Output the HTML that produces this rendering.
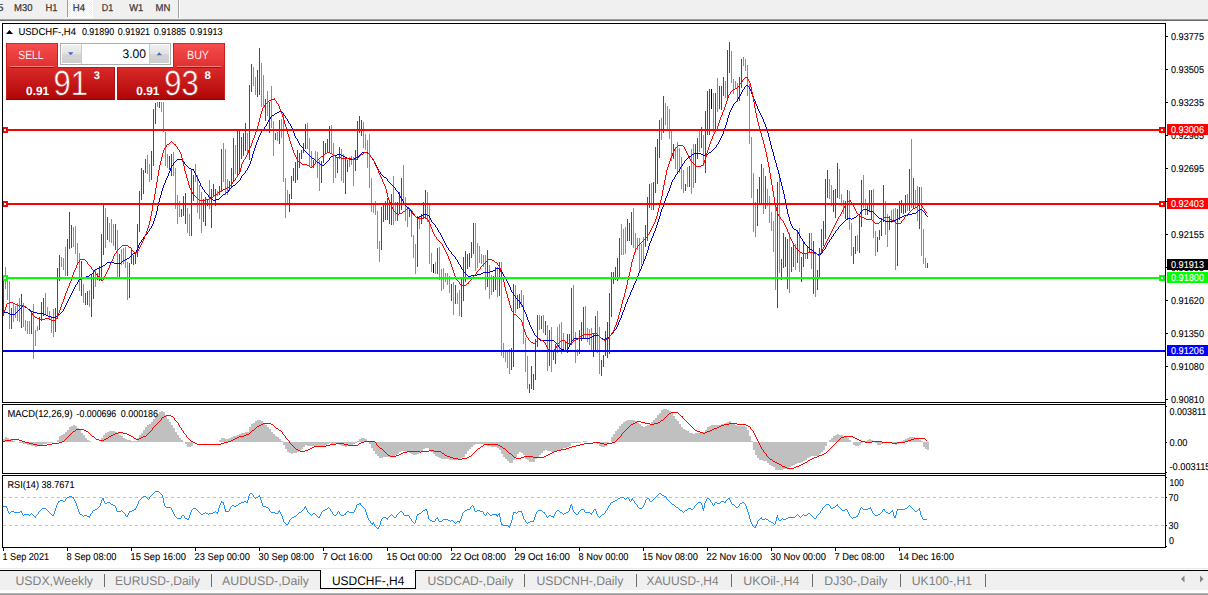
<!DOCTYPE html>
<html><head><meta charset="utf-8"><title>USDCHF-,H4</title>
<style>html,body{margin:0;padding:0;background:#fff;overflow:hidden}body{width:1208px;height:595px;font-family:"Liberation Sans",sans-serif}svg text{font-family:"Liberation Sans",sans-serif;white-space:pre;text-rendering:geometricPrecision}</style></head>
<body>
<svg width="1208" height="595" viewBox="0 0 1208 595" font-family='"Liberation Sans", sans-serif' style="display:block">
<defs><linearGradient id="gs1" x1="0" y1="0" x2="0" y2="1"><stop offset="0" stop-color="#f64e4e"/><stop offset="1" stop-color="#e03030"/></linearGradient><linearGradient id="gs2" x1="0" y1="0" x2="0" y2="1"><stop offset="0" stop-color="#da2a2a"/><stop offset="1" stop-color="#b00505"/></linearGradient><linearGradient id="gb" x1="0" y1="0" x2="0" y2="1"><stop offset="0" stop-color="#f0f0f0"/><stop offset="0.5" stop-color="#e2e2e2"/><stop offset="0.5" stop-color="#d6d6d6"/><stop offset="1" stop-color="#cdcdcd"/></linearGradient><linearGradient id="gs2u" gradientUnits="userSpaceOnUse" x1="0" y1="67" x2="0" y2="100"><stop offset="0" stop-color="#da2a2a"/><stop offset="1" stop-color="#b00505"/></linearGradient><pattern id="dither" width="2" height="2" patternUnits="userSpaceOnUse"><rect width="2" height="2" fill="#f0f0f0"/><rect width="1" height="1" fill="#fff"/><rect x="1" y="1" width="1" height="1" fill="#fff"/></pattern></defs>
<rect x="0" y="0" width="1208" height="595" fill="#fff" />
<g shape-rendering="crispEdges">
<rect x="0" y="0" width="1208" height="19" fill="#f0f0f0" />
<rect x="0" y="19" width="1208" height="1" fill="#a0a0a0" />
<rect x="0" y="20" width="1208" height="1" fill="#696969" />
<rect x="68" y="0" width="24" height="17" fill="url(#dither)" />
<rect x="67" y="0" width="1" height="17" fill="#a0a0a0" />
<rect x="92" y="0" width="1" height="18" fill="#ffffff" />
<rect x="67" y="17" width="26" height="1" fill="#ffffff" />
<rect x="178" y="0" width="1" height="18" fill="#a0a0a0" />
<rect x="179" y="0" width="1" height="18" fill="#ffffff" />
</g>
<g style="opacity:0.999">
<text x="-2.5" y="11" font-size="10" fill="#3a3a3a" stroke="#3a3a3a" stroke-width="0.25" textLength="6" lengthAdjust="spacingAndGlyphs" >5</text>
<text x="14" y="11" font-size="10" fill="#3a3a3a" stroke="#3a3a3a" stroke-width="0.25" textLength="18.5" lengthAdjust="spacingAndGlyphs" >M30</text>
<text x="45.5" y="11" font-size="10" fill="#3a3a3a" stroke="#3a3a3a" stroke-width="0.25" textLength="12" lengthAdjust="spacingAndGlyphs" >H1</text>
<text x="72.8" y="11" font-size="10" fill="#3a3a3a" stroke="#3a3a3a" stroke-width="0.25" textLength="12.2" lengthAdjust="spacingAndGlyphs" >H4</text>
<text x="101.8" y="11" font-size="10" fill="#3a3a3a" stroke="#3a3a3a" stroke-width="0.25" textLength="11.5" lengthAdjust="spacingAndGlyphs" >D1</text>
<text x="129.3" y="11" font-size="10" fill="#3a3a3a" stroke="#3a3a3a" stroke-width="0.25" textLength="14" lengthAdjust="spacingAndGlyphs" >W1</text>
<text x="155.6" y="11" font-size="10" fill="#3a3a3a" stroke="#3a3a3a" stroke-width="0.25" textLength="14.8" lengthAdjust="spacingAndGlyphs" >MN</text>
</g>
<g shape-rendering="crispEdges">
<rect x="3" y="278" width="1" height="38" fill="#ff0000" />
<rect x="5" y="267" width="1" height="22" fill="#32cd32" />
<rect x="7" y="275" width="1" height="25" fill="#32cd32" />
<rect x="9" y="281" width="1" height="48" fill="#32cd32" />
<rect x="11" y="308" width="1" height="21" fill="#ff0000" />
<rect x="13" y="304" width="1" height="18" fill="#32cd32" />
<rect x="15" y="306" width="1" height="12" fill="#32cd32" />
<rect x="17" y="303" width="1" height="18" fill="#32cd32" />
<rect x="19" y="298" width="1" height="24" fill="#32cd32" />
<rect x="21" y="294" width="1" height="34" fill="#ff0000" />
<rect x="23" y="303" width="1" height="24" fill="#32cd32" />
<rect x="25" y="320" width="1" height="11" fill="#32cd32" />
<rect x="27" y="321" width="1" height="13" fill="#32cd32" />
<rect x="29" y="321" width="1" height="13" fill="#32cd32" />
<rect x="31" y="312" width="1" height="22" fill="#ff0000" />
<rect x="33" y="304" width="1" height="55" fill="#32cd32" />
<rect x="35" y="330" width="1" height="16" fill="#32cd32" />
<rect x="37" y="326" width="1" height="5" fill="#32cd32" />
<rect x="39" y="317" width="1" height="13" fill="#ff0000" />
<rect x="41" y="302" width="1" height="19" fill="#ff0000" />
<rect x="43" y="298" width="1" height="18" fill="#ff0000" />
<rect x="45" y="293" width="1" height="21" fill="#32cd32" />
<rect x="47" y="307" width="1" height="8" fill="#32cd32" />
<rect x="49" y="311" width="1" height="9" fill="#32cd32" />
<rect x="51" y="316" width="1" height="17" fill="#32cd32" />
<rect x="53" y="309" width="1" height="28" fill="#32cd32" />
<rect x="55" y="308" width="1" height="24" fill="#ff0000" />
<rect x="57" y="268" width="1" height="51" fill="#ff0000" />
<rect x="59" y="255" width="1" height="26" fill="#ff0000" />
<rect x="61" y="257" width="1" height="10" fill="#32cd32" />
<rect x="63" y="258" width="1" height="12" fill="#32cd32" />
<rect x="65" y="247" width="1" height="29" fill="#32cd32" />
<rect x="67" y="239" width="1" height="37" fill="#ff0000" />
<rect x="69" y="212" width="1" height="37" fill="#ff0000" />
<rect x="71" y="225" width="1" height="23" fill="#ff0000" />
<rect x="73" y="227" width="1" height="20" fill="#32cd32" />
<rect x="75" y="226" width="1" height="28" fill="#32cd32" />
<rect x="77" y="243" width="1" height="20" fill="#32cd32" />
<rect x="79" y="253" width="1" height="38" fill="#32cd32" />
<rect x="81" y="261" width="1" height="35" fill="#ff0000" />
<rect x="83" y="284" width="1" height="19" fill="#32cd32" />
<rect x="85" y="293" width="1" height="12" fill="#ff0000" />
<rect x="87" y="291" width="1" height="14" fill="#ff0000" />
<rect x="89" y="290" width="1" height="17" fill="#32cd32" />
<rect x="91" y="274" width="1" height="43" fill="#ff0000" />
<rect x="93" y="270" width="1" height="29" fill="#ff0000" />
<rect x="95" y="270" width="1" height="17" fill="#32cd32" />
<rect x="97" y="273" width="1" height="7" fill="#ff0000" />
<rect x="99" y="266" width="1" height="15" fill="#ff0000" />
<rect x="101" y="234" width="1" height="47" fill="#ff0000" />
<rect x="103" y="204" width="1" height="51" fill="#ff0000" />
<rect x="105" y="208" width="1" height="40" fill="#32cd32" />
<rect x="107" y="217" width="1" height="23" fill="#ff0000" />
<rect x="109" y="223" width="1" height="19" fill="#32cd32" />
<rect x="111" y="219" width="1" height="24" fill="#32cd32" />
<rect x="113" y="224" width="1" height="22" fill="#32cd32" />
<rect x="115" y="224" width="1" height="26" fill="#ff0000" />
<rect x="117" y="230" width="1" height="48" fill="#32cd32" />
<rect x="119" y="254" width="1" height="24" fill="#ff0000" />
<rect x="121" y="249" width="1" height="16" fill="#32cd32" />
<rect x="123" y="248" width="1" height="16" fill="#32cd32" />
<rect x="125" y="247" width="1" height="21" fill="#32cd32" />
<rect x="127" y="262" width="1" height="38" fill="#32cd32" />
<rect x="129" y="263" width="1" height="35" fill="#ff0000" />
<rect x="131" y="249" width="1" height="15" fill="#ff0000" />
<rect x="133" y="255" width="1" height="10" fill="#ff0000" />
<rect x="135" y="253" width="1" height="11" fill="#ff0000" />
<rect x="137" y="224" width="1" height="33" fill="#ff0000" />
<rect x="139" y="191" width="1" height="41" fill="#ff0000" />
<rect x="141" y="168" width="1" height="32" fill="#ff0000" />
<rect x="143" y="170" width="1" height="24" fill="#ff0000" />
<rect x="145" y="159" width="1" height="14" fill="#ff0000" />
<rect x="147" y="155" width="1" height="19" fill="#32cd32" />
<rect x="149" y="164" width="1" height="18" fill="#32cd32" />
<rect x="151" y="151" width="1" height="29" fill="#ff0000" />
<rect x="153" y="109" width="1" height="57" fill="#ff0000" />
<rect x="155" y="103" width="1" height="21" fill="#ff0000" />
<rect x="157" y="102" width="1" height="5" fill="#32cd32" />
<rect x="159" y="102" width="1" height="6" fill="#ff0000" />
<rect x="161" y="102" width="1" height="10" fill="#32cd32" />
<rect x="163" y="102" width="1" height="30" fill="#32cd32" />
<rect x="165" y="132" width="1" height="34" fill="#32cd32" />
<rect x="167" y="154" width="1" height="14" fill="#32cd32" />
<rect x="169" y="156" width="1" height="14" fill="#ff0000" />
<rect x="171" y="154" width="1" height="22" fill="#ff0000" />
<rect x="173" y="152" width="1" height="24" fill="#32cd32" />
<rect x="175" y="168" width="1" height="41" fill="#32cd32" />
<rect x="177" y="195" width="1" height="29" fill="#32cd32" />
<rect x="179" y="201" width="1" height="16" fill="#32cd32" />
<rect x="181" y="209" width="1" height="8" fill="#ff0000" />
<rect x="183" y="196" width="1" height="20" fill="#ff0000" />
<rect x="185" y="193" width="1" height="31" fill="#ff0000" />
<rect x="187" y="208" width="1" height="25" fill="#32cd32" />
<rect x="189" y="214" width="1" height="22" fill="#32cd32" />
<rect x="191" y="170" width="1" height="66" fill="#ff0000" />
<rect x="193" y="175" width="1" height="26" fill="#ff0000" />
<rect x="195" y="164" width="1" height="18" fill="#32cd32" />
<rect x="197" y="175" width="1" height="38" fill="#32cd32" />
<rect x="199" y="185" width="1" height="34" fill="#32cd32" />
<rect x="201" y="192" width="1" height="41" fill="#32cd32" />
<rect x="203" y="199" width="1" height="23" fill="#ff0000" />
<rect x="205" y="197" width="1" height="29" fill="#ff0000" />
<rect x="207" y="199" width="1" height="7" fill="#ff0000" />
<rect x="209" y="180" width="1" height="29" fill="#32cd32" />
<rect x="211" y="189" width="1" height="39" fill="#ff0000" />
<rect x="213" y="184" width="1" height="13" fill="#ff0000" />
<rect x="215" y="189" width="1" height="17" fill="#ff0000" />
<rect x="217" y="191" width="1" height="5" fill="#32cd32" />
<rect x="219" y="186" width="1" height="9" fill="#ff0000" />
<rect x="221" y="149" width="1" height="43" fill="#ff0000" />
<rect x="223" y="143" width="1" height="39" fill="#32cd32" />
<rect x="225" y="149" width="1" height="46" fill="#32cd32" />
<rect x="227" y="179" width="1" height="16" fill="#32cd32" />
<rect x="229" y="181" width="1" height="10" fill="#ff0000" />
<rect x="231" y="168" width="1" height="19" fill="#ff0000" />
<rect x="233" y="138" width="1" height="43" fill="#ff0000" />
<rect x="235" y="145" width="1" height="29" fill="#32cd32" />
<rect x="237" y="130" width="1" height="45" fill="#ff0000" />
<rect x="239" y="130" width="1" height="42" fill="#ff0000" />
<rect x="241" y="137" width="1" height="22" fill="#ff0000" />
<rect x="243" y="133" width="1" height="23" fill="#ff0000" />
<rect x="245" y="123" width="1" height="28" fill="#ff0000" />
<rect x="247" y="133" width="1" height="20" fill="#32cd32" />
<rect x="249" y="85" width="1" height="75" fill="#ff0000" />
<rect x="251" y="64" width="1" height="28" fill="#ff0000" />
<rect x="253" y="67" width="1" height="19" fill="#32cd32" />
<rect x="255" y="77" width="1" height="18" fill="#32cd32" />
<rect x="257" y="70" width="1" height="27" fill="#ff0000" />
<rect x="259" y="48" width="1" height="47" fill="#ff0000" />
<rect x="261" y="63" width="1" height="44" fill="#32cd32" />
<rect x="263" y="75" width="1" height="33" fill="#32cd32" />
<rect x="265" y="99" width="1" height="22" fill="#ff0000" />
<rect x="267" y="91" width="1" height="25" fill="#32cd32" />
<rect x="269" y="102" width="1" height="31" fill="#ff0000" />
<rect x="271" y="86" width="1" height="42" fill="#32cd32" />
<rect x="273" y="121" width="1" height="35" fill="#32cd32" />
<rect x="275" y="133" width="1" height="7" fill="#ff0000" />
<rect x="277" y="132" width="1" height="9" fill="#32cd32" />
<rect x="279" y="120" width="1" height="24" fill="#ff0000" />
<rect x="281" y="119" width="1" height="19" fill="#32cd32" />
<rect x="283" y="113" width="1" height="69" fill="#32cd32" />
<rect x="285" y="178" width="1" height="40" fill="#32cd32" />
<rect x="287" y="190" width="1" height="14" fill="#32cd32" />
<rect x="289" y="194" width="1" height="18" fill="#ff0000" />
<rect x="291" y="176" width="1" height="23" fill="#ff0000" />
<rect x="293" y="168" width="1" height="13" fill="#ff0000" />
<rect x="295" y="162" width="1" height="21" fill="#ff0000" />
<rect x="297" y="150" width="1" height="30" fill="#ff0000" />
<rect x="299" y="153" width="1" height="15" fill="#ff0000" />
<rect x="301" y="150" width="1" height="9" fill="#ff0000" />
<rect x="303" y="143" width="1" height="10" fill="#ff0000" />
<rect x="305" y="124" width="1" height="25" fill="#ff0000" />
<rect x="307" y="123" width="1" height="26" fill="#32cd32" />
<rect x="309" y="138" width="1" height="28" fill="#32cd32" />
<rect x="311" y="151" width="1" height="16" fill="#32cd32" />
<rect x="313" y="160" width="1" height="8" fill="#ff0000" />
<rect x="315" y="151" width="1" height="13" fill="#32cd32" />
<rect x="317" y="152" width="1" height="26" fill="#32cd32" />
<rect x="319" y="160" width="1" height="31" fill="#32cd32" />
<rect x="321" y="161" width="1" height="22" fill="#ff0000" />
<rect x="323" y="141" width="1" height="22" fill="#ff0000" />
<rect x="325" y="143" width="1" height="10" fill="#ff0000" />
<rect x="327" y="139" width="1" height="13" fill="#ff0000" />
<rect x="329" y="126" width="1" height="26" fill="#ff0000" />
<rect x="331" y="125" width="1" height="29" fill="#32cd32" />
<rect x="333" y="143" width="1" height="40" fill="#32cd32" />
<rect x="335" y="156" width="1" height="22" fill="#32cd32" />
<rect x="337" y="157" width="1" height="16" fill="#ff0000" />
<rect x="339" y="147" width="1" height="12" fill="#ff0000" />
<rect x="341" y="149" width="1" height="32" fill="#32cd32" />
<rect x="343" y="154" width="1" height="29" fill="#32cd32" />
<rect x="345" y="159" width="1" height="35" fill="#ff0000" />
<rect x="347" y="160" width="1" height="12" fill="#ff0000" />
<rect x="349" y="157" width="1" height="10" fill="#32cd32" />
<rect x="351" y="156" width="1" height="9" fill="#32cd32" />
<rect x="353" y="157" width="1" height="29" fill="#32cd32" />
<rect x="355" y="150" width="1" height="21" fill="#ff0000" />
<rect x="357" y="121" width="1" height="39" fill="#ff0000" />
<rect x="359" y="116" width="1" height="17" fill="#ff0000" />
<rect x="361" y="120" width="1" height="16" fill="#ff0000" />
<rect x="363" y="122" width="1" height="26" fill="#32cd32" />
<rect x="365" y="134" width="1" height="16" fill="#32cd32" />
<rect x="367" y="140" width="1" height="28" fill="#32cd32" />
<rect x="369" y="134" width="1" height="54" fill="#32cd32" />
<rect x="371" y="178" width="1" height="34" fill="#32cd32" />
<rect x="373" y="204" width="1" height="9" fill="#32cd32" />
<rect x="375" y="201" width="1" height="14" fill="#32cd32" />
<rect x="377" y="211" width="1" height="38" fill="#32cd32" />
<rect x="379" y="241" width="1" height="21" fill="#32cd32" />
<rect x="381" y="207" width="1" height="43" fill="#ff0000" />
<rect x="383" y="204" width="1" height="18" fill="#ff0000" />
<rect x="385" y="201" width="1" height="19" fill="#ff0000" />
<rect x="387" y="198" width="1" height="22" fill="#ff0000" />
<rect x="389" y="201" width="1" height="23" fill="#ff0000" />
<rect x="391" y="194" width="1" height="31" fill="#ff0000" />
<rect x="393" y="176" width="1" height="49" fill="#32cd32" />
<rect x="395" y="202" width="1" height="19" fill="#32cd32" />
<rect x="397" y="202" width="1" height="19" fill="#ff0000" />
<rect x="399" y="192" width="1" height="21" fill="#ff0000" />
<rect x="401" y="178" width="1" height="32" fill="#ff0000" />
<rect x="403" y="165" width="1" height="40" fill="#32cd32" />
<rect x="405" y="197" width="1" height="24" fill="#32cd32" />
<rect x="407" y="207" width="1" height="20" fill="#32cd32" />
<rect x="409" y="208" width="1" height="9" fill="#ff0000" />
<rect x="411" y="211" width="1" height="26" fill="#32cd32" />
<rect x="413" y="235" width="1" height="23" fill="#32cd32" />
<rect x="415" y="244" width="1" height="30" fill="#32cd32" />
<rect x="417" y="216" width="1" height="51" fill="#ff0000" />
<rect x="419" y="216" width="1" height="13" fill="#32cd32" />
<rect x="421" y="214" width="1" height="10" fill="#ff0000" />
<rect x="423" y="202" width="1" height="17" fill="#ff0000" />
<rect x="425" y="190" width="1" height="29" fill="#ff0000" />
<rect x="427" y="192" width="1" height="30" fill="#32cd32" />
<rect x="429" y="203" width="1" height="61" fill="#32cd32" />
<rect x="431" y="253" width="1" height="19" fill="#32cd32" />
<rect x="433" y="264" width="1" height="9" fill="#000000" />
<rect x="435" y="262" width="1" height="12" fill="#32cd32" />
<rect x="437" y="248" width="1" height="26" fill="#ff0000" />
<rect x="439" y="247" width="1" height="33" fill="#32cd32" />
<rect x="441" y="269" width="1" height="22" fill="#32cd32" />
<rect x="443" y="268" width="1" height="21" fill="#32cd32" />
<rect x="445" y="273" width="1" height="9" fill="#32cd32" />
<rect x="447" y="273" width="1" height="12" fill="#32cd32" />
<rect x="449" y="276" width="1" height="17" fill="#32cd32" />
<rect x="451" y="284" width="1" height="17" fill="#ff0000" />
<rect x="453" y="282" width="1" height="33" fill="#32cd32" />
<rect x="455" y="285" width="1" height="19" fill="#ff0000" />
<rect x="457" y="293" width="1" height="11" fill="#32cd32" />
<rect x="459" y="290" width="1" height="26" fill="#32cd32" />
<rect x="461" y="278" width="1" height="39" fill="#ff0000" />
<rect x="463" y="257" width="1" height="44" fill="#ff0000" />
<rect x="465" y="251" width="1" height="31" fill="#ff0000" />
<rect x="467" y="254" width="1" height="15" fill="#ff0000" />
<rect x="469" y="253" width="1" height="14" fill="#ff0000" />
<rect x="471" y="242" width="1" height="16" fill="#ff0000" />
<rect x="473" y="223" width="1" height="31" fill="#ff0000" />
<rect x="475" y="223" width="1" height="48" fill="#32cd32" />
<rect x="477" y="243" width="1" height="25" fill="#32cd32" />
<rect x="479" y="246" width="1" height="17" fill="#32cd32" />
<rect x="481" y="254" width="1" height="10" fill="#32cd32" />
<rect x="483" y="255" width="1" height="12" fill="#32cd32" />
<rect x="485" y="255" width="1" height="35" fill="#32cd32" />
<rect x="487" y="250" width="1" height="37" fill="#ff0000" />
<rect x="489" y="265" width="1" height="34" fill="#32cd32" />
<rect x="491" y="275" width="1" height="20" fill="#32cd32" />
<rect x="493" y="276" width="1" height="16" fill="#ff0000" />
<rect x="495" y="267" width="1" height="23" fill="#ff0000" />
<rect x="497" y="267" width="1" height="30" fill="#32cd32" />
<rect x="499" y="262" width="1" height="34" fill="#ff0000" />
<rect x="501" y="262" width="1" height="94" fill="#32cd32" />
<rect x="503" y="343" width="1" height="15" fill="#32cd32" />
<rect x="505" y="350" width="1" height="12" fill="#32cd32" />
<rect x="507" y="351" width="1" height="17" fill="#32cd32" />
<rect x="509" y="349" width="1" height="25" fill="#32cd32" />
<rect x="511" y="348" width="1" height="22" fill="#ff0000" />
<rect x="513" y="284" width="1" height="83" fill="#ff0000" />
<rect x="515" y="285" width="1" height="28" fill="#32cd32" />
<rect x="517" y="295" width="1" height="14" fill="#ff0000" />
<rect x="519" y="294" width="1" height="14" fill="#ff0000" />
<rect x="521" y="290" width="1" height="17" fill="#32cd32" />
<rect x="523" y="295" width="1" height="49" fill="#32cd32" />
<rect x="525" y="338" width="1" height="34" fill="#32cd32" />
<rect x="527" y="356" width="1" height="33" fill="#32cd32" />
<rect x="529" y="384" width="1" height="9" fill="#ff0000" />
<rect x="531" y="366" width="1" height="23" fill="#ff0000" />
<rect x="533" y="374" width="1" height="16" fill="#ff0000" />
<rect x="535" y="339" width="1" height="41" fill="#ff0000" />
<rect x="537" y="315" width="1" height="32" fill="#ff0000" />
<rect x="539" y="315" width="1" height="15" fill="#32cd32" />
<rect x="541" y="316" width="1" height="13" fill="#ff0000" />
<rect x="543" y="315" width="1" height="18" fill="#32cd32" />
<rect x="545" y="321" width="1" height="14" fill="#ff0000" />
<rect x="547" y="325" width="1" height="46" fill="#32cd32" />
<rect x="549" y="330" width="1" height="36" fill="#ff0000" />
<rect x="551" y="327" width="1" height="45" fill="#32cd32" />
<rect x="553" y="351" width="1" height="9" fill="#ff0000" />
<rect x="555" y="344" width="1" height="20" fill="#ff0000" />
<rect x="557" y="327" width="1" height="26" fill="#32cd32" />
<rect x="559" y="324" width="1" height="26" fill="#32cd32" />
<rect x="561" y="322" width="1" height="32" fill="#32cd32" />
<rect x="563" y="333" width="1" height="19" fill="#32cd32" />
<rect x="565" y="342" width="1" height="10" fill="#ff0000" />
<rect x="567" y="334" width="1" height="19" fill="#ff0000" />
<rect x="569" y="334" width="1" height="11" fill="#ff0000" />
<rect x="571" y="288" width="1" height="57" fill="#ff0000" />
<rect x="573" y="285" width="1" height="56" fill="#32cd32" />
<rect x="575" y="332" width="1" height="31" fill="#32cd32" />
<rect x="577" y="349" width="1" height="7" fill="#32cd32" />
<rect x="579" y="330" width="1" height="24" fill="#ff0000" />
<rect x="581" y="322" width="1" height="19" fill="#ff0000" />
<rect x="583" y="307" width="1" height="32" fill="#ff0000" />
<rect x="585" y="306" width="1" height="32" fill="#32cd32" />
<rect x="587" y="328" width="1" height="14" fill="#32cd32" />
<rect x="589" y="329" width="1" height="16" fill="#32cd32" />
<rect x="591" y="328" width="1" height="23" fill="#32cd32" />
<rect x="593" y="333" width="1" height="24" fill="#ff0000" />
<rect x="595" y="316" width="1" height="36" fill="#ff0000" />
<rect x="597" y="311" width="1" height="42" fill="#32cd32" />
<rect x="599" y="327" width="1" height="47" fill="#32cd32" />
<rect x="601" y="360" width="1" height="16" fill="#ff0000" />
<rect x="603" y="355" width="1" height="12" fill="#ff0000" />
<rect x="605" y="331" width="1" height="25" fill="#ff0000" />
<rect x="607" y="322" width="1" height="36" fill="#ff0000" />
<rect x="609" y="293" width="1" height="61" fill="#ff0000" />
<rect x="611" y="272" width="1" height="45" fill="#ff0000" />
<rect x="613" y="272" width="1" height="12" fill="#ff0000" />
<rect x="615" y="267" width="1" height="13" fill="#ff0000" />
<rect x="617" y="258" width="1" height="23" fill="#ff0000" />
<rect x="619" y="238" width="1" height="39" fill="#ff0000" />
<rect x="621" y="224" width="1" height="31" fill="#32cd32" />
<rect x="623" y="229" width="1" height="26" fill="#32cd32" />
<rect x="625" y="227" width="1" height="27" fill="#32cd32" />
<rect x="627" y="219" width="1" height="22" fill="#ff0000" />
<rect x="629" y="223" width="1" height="18" fill="#ff0000" />
<rect x="631" y="212" width="1" height="33" fill="#ff0000" />
<rect x="633" y="208" width="1" height="40" fill="#32cd32" />
<rect x="635" y="233" width="1" height="20" fill="#32cd32" />
<rect x="637" y="238" width="1" height="12" fill="#32cd32" />
<rect x="639" y="238" width="1" height="33" fill="#32cd32" />
<rect x="641" y="244" width="1" height="21" fill="#32cd32" />
<rect x="643" y="237" width="1" height="26" fill="#32cd32" />
<rect x="645" y="225" width="1" height="22" fill="#ff0000" />
<rect x="647" y="197" width="1" height="44" fill="#ff0000" />
<rect x="649" y="184" width="1" height="24" fill="#ff0000" />
<rect x="651" y="183" width="1" height="27" fill="#32cd32" />
<rect x="653" y="182" width="1" height="28" fill="#ff0000" />
<rect x="655" y="147" width="1" height="46" fill="#ff0000" />
<rect x="657" y="139" width="1" height="45" fill="#ff0000" />
<rect x="659" y="120" width="1" height="38" fill="#ff0000" />
<rect x="661" y="118" width="1" height="22" fill="#32cd32" />
<rect x="663" y="96" width="1" height="37" fill="#ff0000" />
<rect x="665" y="103" width="1" height="22" fill="#32cd32" />
<rect x="667" y="106" width="1" height="23" fill="#32cd32" />
<rect x="669" y="109" width="1" height="30" fill="#32cd32" />
<rect x="671" y="130" width="1" height="31" fill="#32cd32" />
<rect x="673" y="144" width="1" height="15" fill="#ff0000" />
<rect x="675" y="147" width="1" height="22" fill="#32cd32" />
<rect x="677" y="142" width="1" height="30" fill="#32cd32" />
<rect x="679" y="148" width="1" height="25" fill="#32cd32" />
<rect x="681" y="157" width="1" height="32" fill="#32cd32" />
<rect x="683" y="170" width="1" height="23" fill="#32cd32" />
<rect x="685" y="184" width="1" height="7" fill="#ff0000" />
<rect x="687" y="167" width="1" height="20" fill="#32cd32" />
<rect x="689" y="166" width="1" height="21" fill="#ff0000" />
<rect x="691" y="149" width="1" height="45" fill="#32cd32" />
<rect x="693" y="144" width="1" height="44" fill="#32cd32" />
<rect x="695" y="144" width="1" height="39" fill="#ff0000" />
<rect x="697" y="138" width="1" height="21" fill="#ff0000" />
<rect x="699" y="130" width="1" height="22" fill="#32cd32" />
<rect x="701" y="127" width="1" height="21" fill="#ff0000" />
<rect x="703" y="135" width="1" height="31" fill="#32cd32" />
<rect x="705" y="111" width="1" height="62" fill="#ff0000" />
<rect x="707" y="91" width="1" height="44" fill="#ff0000" />
<rect x="709" y="89" width="1" height="46" fill="#ff0000" />
<rect x="711" y="89" width="1" height="20" fill="#000000" />
<rect x="713" y="93" width="1" height="39" fill="#32cd32" />
<rect x="715" y="93" width="1" height="37" fill="#ff0000" />
<rect x="717" y="78" width="1" height="34" fill="#32cd32" />
<rect x="719" y="86" width="1" height="23" fill="#ff0000" />
<rect x="721" y="86" width="1" height="24" fill="#ff0000" />
<rect x="723" y="77" width="1" height="19" fill="#ff0000" />
<rect x="725" y="81" width="1" height="17" fill="#32cd32" />
<rect x="727" y="50" width="1" height="49" fill="#ff0000" />
<rect x="729" y="42" width="1" height="31" fill="#ff0000" />
<rect x="731" y="51" width="1" height="32" fill="#32cd32" />
<rect x="733" y="79" width="1" height="15" fill="#32cd32" />
<rect x="735" y="81" width="1" height="7" fill="#32cd32" />
<rect x="737" y="83" width="1" height="19" fill="#32cd32" />
<rect x="739" y="77" width="1" height="24" fill="#ff0000" />
<rect x="741" y="59" width="1" height="29" fill="#ff0000" />
<rect x="743" y="57" width="1" height="9" fill="#32cd32" />
<rect x="745" y="59" width="1" height="12" fill="#32cd32" />
<rect x="747" y="65" width="1" height="31" fill="#32cd32" />
<rect x="749" y="84" width="1" height="60" fill="#32cd32" />
<rect x="751" y="137" width="1" height="61" fill="#32cd32" />
<rect x="753" y="173" width="1" height="59" fill="#32cd32" />
<rect x="755" y="202" width="1" height="35" fill="#32cd32" />
<rect x="757" y="189" width="1" height="37" fill="#ff0000" />
<rect x="759" y="177" width="1" height="28" fill="#ff0000" />
<rect x="761" y="164" width="1" height="41" fill="#ff0000" />
<rect x="763" y="168" width="1" height="46" fill="#32cd32" />
<rect x="765" y="176" width="1" height="33" fill="#ff0000" />
<rect x="767" y="189" width="1" height="17" fill="#32cd32" />
<rect x="769" y="196" width="1" height="27" fill="#32cd32" />
<rect x="771" y="212" width="1" height="19" fill="#32cd32" />
<rect x="773" y="221" width="1" height="31" fill="#32cd32" />
<rect x="775" y="207" width="1" height="83" fill="#32cd32" />
<rect x="777" y="182" width="1" height="126" fill="#ff0000" />
<rect x="779" y="173" width="1" height="100" fill="#32cd32" />
<rect x="781" y="259" width="1" height="21" fill="#ff0000" />
<rect x="783" y="233" width="1" height="35" fill="#ff0000" />
<rect x="785" y="237" width="1" height="30" fill="#ff0000" />
<rect x="787" y="239" width="1" height="50" fill="#ff0000" />
<rect x="789" y="233" width="1" height="60" fill="#32cd32" />
<rect x="791" y="247" width="1" height="25" fill="#ff0000" />
<rect x="793" y="243" width="1" height="24" fill="#ff0000" />
<rect x="795" y="244" width="1" height="26" fill="#32cd32" />
<rect x="797" y="230" width="1" height="33" fill="#ff0000" />
<rect x="799" y="228" width="1" height="44" fill="#32cd32" />
<rect x="801" y="257" width="1" height="25" fill="#ff0000" />
<rect x="803" y="242" width="1" height="25" fill="#ff0000" />
<rect x="805" y="253" width="1" height="6" fill="#32cd32" />
<rect x="807" y="247" width="1" height="12" fill="#ff0000" />
<rect x="809" y="233" width="1" height="20" fill="#ff0000" />
<rect x="811" y="233" width="1" height="36" fill="#32cd32" />
<rect x="813" y="241" width="1" height="53" fill="#ff0000" />
<rect x="815" y="252" width="1" height="45" fill="#32cd32" />
<rect x="817" y="270" width="1" height="20" fill="#ff0000" />
<rect x="819" y="248" width="1" height="31" fill="#ff0000" />
<rect x="821" y="229" width="1" height="25" fill="#ff0000" />
<rect x="823" y="221" width="1" height="25" fill="#ff0000" />
<rect x="825" y="179" width="1" height="60" fill="#ff0000" />
<rect x="827" y="170" width="1" height="28" fill="#ff0000" />
<rect x="829" y="179" width="1" height="20" fill="#32cd32" />
<rect x="831" y="185" width="1" height="21" fill="#32cd32" />
<rect x="833" y="190" width="1" height="22" fill="#ff0000" />
<rect x="835" y="189" width="1" height="29" fill="#ff0000" />
<rect x="837" y="163" width="1" height="35" fill="#ff0000" />
<rect x="839" y="169" width="1" height="30" fill="#32cd32" />
<rect x="841" y="194" width="1" height="12" fill="#32cd32" />
<rect x="843" y="200" width="1" height="14" fill="#32cd32" />
<rect x="845" y="201" width="1" height="18" fill="#ff0000" />
<rect x="847" y="190" width="1" height="30" fill="#ff0000" />
<rect x="849" y="191" width="1" height="39" fill="#32cd32" />
<rect x="851" y="223" width="1" height="33" fill="#32cd32" />
<rect x="853" y="247" width="1" height="17" fill="#ff0000" />
<rect x="855" y="236" width="1" height="18" fill="#ff0000" />
<rect x="857" y="235" width="1" height="16" fill="#32cd32" />
<rect x="859" y="215" width="1" height="38" fill="#ff0000" />
<rect x="861" y="180" width="1" height="47" fill="#ff0000" />
<rect x="863" y="175" width="1" height="33" fill="#32cd32" />
<rect x="865" y="199" width="1" height="16" fill="#32cd32" />
<rect x="867" y="204" width="1" height="11" fill="#ff0000" />
<rect x="869" y="190" width="1" height="22" fill="#ff0000" />
<rect x="871" y="190" width="1" height="29" fill="#ff0000" />
<rect x="873" y="189" width="1" height="49" fill="#32cd32" />
<rect x="875" y="231" width="1" height="25" fill="#32cd32" />
<rect x="877" y="237" width="1" height="15" fill="#ff0000" />
<rect x="879" y="230" width="1" height="10" fill="#ff0000" />
<rect x="881" y="218" width="1" height="18" fill="#ff0000" />
<rect x="883" y="185" width="1" height="37" fill="#ff0000" />
<rect x="885" y="201" width="1" height="34" fill="#32cd32" />
<rect x="887" y="214" width="1" height="33" fill="#32cd32" />
<rect x="889" y="216" width="1" height="14" fill="#ff0000" />
<rect x="891" y="210" width="1" height="13" fill="#32cd32" />
<rect x="893" y="209" width="1" height="13" fill="#32cd32" />
<rect x="895" y="208" width="1" height="62" fill="#32cd32" />
<rect x="897" y="209" width="1" height="57" fill="#ff0000" />
<rect x="899" y="201" width="1" height="19" fill="#ff0000" />
<rect x="901" y="200" width="1" height="13" fill="#ff0000" />
<rect x="903" y="203" width="1" height="11" fill="#ff0000" />
<rect x="905" y="195" width="1" height="18" fill="#ff0000" />
<rect x="907" y="194" width="1" height="17" fill="#32cd32" />
<rect x="909" y="169" width="1" height="42" fill="#ff0000" />
<rect x="911" y="139" width="1" height="69" fill="#32cd32" />
<rect x="913" y="178" width="1" height="30" fill="#ff0000" />
<rect x="915" y="190" width="1" height="17" fill="#32cd32" />
<rect x="917" y="186" width="1" height="35" fill="#32cd32" />
<rect x="919" y="187" width="1" height="42" fill="#ff0000" />
<rect x="921" y="187" width="1" height="69" fill="#32cd32" />
<rect x="923" y="229" width="1" height="35" fill="#32cd32" />
<rect x="925" y="258" width="1" height="10" fill="#32cd32" />
<rect x="927" y="263" width="1" height="5" fill="#ff0000" />
</g>
<path d="M3.5 312v1M4.5 312v1M5.5 312v1M6.5 312v1M7.5 312v1M8.5 313v1M9.5 313v1M10.5 314v1M11.5 314v1M12.5 314v1M13.5 314v1M14.5 314v1M15.5 313v1M16.5 312v1M17.5 311v1M18.5 310v1M19.5 309v1M20.5 308v1M21.5 307v1M22.5 306v1M23.5 305v1M24.5 306v1M25.5 307v1M26.5 307v1M27.5 308v1M28.5 309v1M29.5 309v1M30.5 310v1M31.5 311v1M32.5 311v1M33.5 312v1M34.5 312v1M35.5 312v1M36.5 312v1M37.5 313v1M38.5 313v1M39.5 313v1M40.5 313v1M41.5 313v1M42.5 313v1M43.5 313v1M44.5 314v1M45.5 314v1M46.5 315v1M47.5 315v1M48.5 316v1M49.5 316v1M50.5 316v1M51.5 317v1M52.5 317v1M53.5 317v1M54.5 317v1M55.5 317v1M56.5 316v1M57.5 316v1M58.5 315v1M59.5 314v1M60.5 313v1M61.5 312v1M62.5 311v1M63.5 309v2M64.5 307v2M65.5 305v2M66.5 303v2M67.5 301v2M68.5 299v2M69.5 297v2M70.5 295v2M71.5 293v2M72.5 291v2M73.5 289v2M74.5 287v2M75.5 285v2M76.5 284v1M77.5 282v2M78.5 280v2M79.5 279v1M80.5 279v1M81.5 278v1M82.5 278v1M83.5 277v1M84.5 277v1M85.5 277v1M86.5 276v1M87.5 276v1M88.5 276v1M89.5 275v1M90.5 274v1M91.5 274v1M92.5 273v1M93.5 272v1M94.5 270v2M95.5 269v1M96.5 269v1M97.5 268v1M98.5 268v1M99.5 267v1M100.5 267v1M101.5 266v1M102.5 266v1M103.5 265v1M104.5 265v1M105.5 264v1M106.5 263v1M107.5 262v1M108.5 262v1M109.5 262v1M110.5 262v1M111.5 262v1M112.5 262v1M113.5 262v1M114.5 263v1M115.5 263v1M116.5 263v1M117.5 263v1M118.5 263v1M119.5 263v1M120.5 263v1M121.5 262v1M122.5 261v1M123.5 260v1M124.5 260v1M125.5 259v1M126.5 259v1M127.5 258v1M128.5 258v1M129.5 257v1M130.5 256v1M131.5 255v1M132.5 254v1M133.5 253v1M134.5 253v1M135.5 252v1M136.5 250v2M137.5 248v2M138.5 245v3M139.5 243v2M140.5 242v1M141.5 240v2M142.5 239v1M143.5 237v2M144.5 236v1M145.5 235v1M146.5 234v1M147.5 232v2M148.5 231v1M149.5 229v2M150.5 228v1M151.5 226v2M152.5 224v2M153.5 221v3M154.5 218v3M155.5 215v3M156.5 211v4M157.5 206v5M158.5 202v4M159.5 198v4M160.5 195v3M161.5 191v4M162.5 188v3M163.5 185v3M164.5 183v2M165.5 180v3M166.5 178v2M167.5 176v2M168.5 173v3M169.5 171v2M170.5 168v3M171.5 166v2M172.5 165v1M173.5 163v2M174.5 162v1M175.5 161v1M176.5 160v1M177.5 159v1M178.5 159v1M179.5 159v1M180.5 159v1M181.5 159v1M182.5 160v1M183.5 161v1M184.5 162v2M185.5 164v1M186.5 165v1M187.5 166v1M188.5 167v1M189.5 168v1M190.5 168v1M191.5 169v1M192.5 169v1M193.5 169v2M194.5 171v2M195.5 173v2M196.5 175v2M197.5 177v2M198.5 179v2M199.5 181v2M200.5 183v3M201.5 186v1M202.5 187v2M203.5 189v1M204.5 190v2M205.5 192v1M206.5 193v1M207.5 194v1M208.5 195v2M209.5 197v1M210.5 197v1M211.5 198v1M212.5 199v1M213.5 200v1M214.5 200v1M215.5 200v1M216.5 199v1M217.5 199v1M218.5 199v1M219.5 198v1M220.5 197v1M221.5 196v1M222.5 195v1M223.5 194v1M224.5 194v1M225.5 193v1M226.5 192v1M227.5 192v1M228.5 190v2M229.5 189v1M230.5 188v1M231.5 187v1M232.5 186v1M233.5 185v1M234.5 185v1M235.5 184v1M236.5 183v1M237.5 182v1M238.5 181v1M239.5 180v1M240.5 178v2M241.5 176v2M242.5 175v1M243.5 174v1M244.5 173v1M245.5 171v2M246.5 170v1M247.5 168v2M248.5 166v2M249.5 164v2M250.5 161v3M251.5 158v3M252.5 154v4M253.5 151v3M254.5 148v3M255.5 145v3M256.5 142v3M257.5 140v2M258.5 137v3M259.5 135v2M260.5 133v2M261.5 131v2M262.5 130v1M263.5 129v1M264.5 127v2M265.5 126v1M266.5 124v2M267.5 122v2M268.5 120v2M269.5 119v1M270.5 117v2M271.5 116v1M272.5 115v1M273.5 115v1M274.5 114v1M275.5 113v1M276.5 113v1M277.5 112v1M278.5 112v1M279.5 111v1M280.5 111v1M281.5 111v1M282.5 112v1M283.5 113v2M284.5 115v1M285.5 116v2M286.5 118v1M287.5 119v2M288.5 121v2M289.5 123v1M290.5 124v2M291.5 126v2M292.5 128v3M293.5 131v2M294.5 133v3M295.5 136v2M296.5 138v1M297.5 139v2M298.5 141v2M299.5 143v2M300.5 145v1M301.5 146v1M302.5 147v1M303.5 148v2M304.5 150v1M305.5 151v1M306.5 152v1M307.5 153v1M308.5 154v1M309.5 155v1M310.5 156v1M311.5 157v1M312.5 158v1M313.5 158v1M314.5 159v1M315.5 160v1M316.5 161v1M317.5 162v1M318.5 162v1M319.5 163v1M320.5 164v1M321.5 164v1M322.5 165v1M323.5 165v1M324.5 164v1M325.5 163v1M326.5 162v1M327.5 161v1M328.5 160v1M329.5 158v2M330.5 157v1M331.5 156v1M332.5 156v1M333.5 155v1M334.5 155v1M335.5 155v1M336.5 155v1M337.5 154v1M338.5 154v1M339.5 154v1M340.5 154v1M341.5 155v1M342.5 155v1M343.5 156v1M344.5 156v1M345.5 157v1M346.5 157v1M347.5 158v1M348.5 158v1M349.5 159v1M350.5 159v1M351.5 159v1M352.5 159v1M353.5 159v1M354.5 158v1M355.5 158v1M356.5 157v1M357.5 157v1M358.5 156v1M359.5 155v1M360.5 154v1M361.5 153v1M362.5 152v1M363.5 152v1M364.5 152v1M365.5 152v1M366.5 152v1M367.5 152v1M368.5 153v1M369.5 154v1M370.5 155v2M371.5 157v1M372.5 158v2M373.5 160v1M374.5 161v2M375.5 163v2M376.5 165v2M377.5 167v2M378.5 169v2M379.5 171v1M380.5 172v2M381.5 174v1M382.5 175v1M383.5 176v1M384.5 177v1M385.5 177v1M386.5 178v1M387.5 179v2M388.5 181v1M389.5 182v1M390.5 183v1M391.5 184v1M392.5 185v1M393.5 186v1M394.5 187v1M395.5 188v2M396.5 190v1M397.5 191v1M398.5 192v2M399.5 194v2M400.5 196v2M401.5 198v1M402.5 199v2M403.5 201v2M404.5 203v2M405.5 205v1M406.5 206v1M407.5 207v1M408.5 208v1M409.5 208v1M410.5 209v2M411.5 211v2M412.5 213v1M413.5 214v1M414.5 215v1M415.5 216v1M416.5 217v1M417.5 217v1M418.5 217v1M419.5 216v1M420.5 216v1M421.5 215v1M422.5 215v1M423.5 214v1M424.5 214v1M425.5 214v1M426.5 214v1M427.5 215v1M428.5 215v1M429.5 216v2M430.5 218v2M431.5 220v2M432.5 222v1M433.5 223v1M434.5 224v1M435.5 225v2M436.5 227v1M437.5 228v2M438.5 230v2M439.5 232v1M440.5 233v2M441.5 235v2M442.5 237v2M443.5 239v2M444.5 241v2M445.5 243v2M446.5 245v2M447.5 247v1M448.5 248v2M449.5 250v1M450.5 251v1M451.5 252v2M452.5 254v1M453.5 255v1M454.5 256v1M455.5 257v2M456.5 259v1M457.5 260v2M458.5 262v2M459.5 264v1M460.5 265v2M461.5 267v2M462.5 269v1M463.5 270v2M464.5 272v1M465.5 273v1M466.5 274v1M467.5 275v1M468.5 276v1M469.5 276v1M470.5 276v1M471.5 275v1M472.5 275v1M473.5 275v1M474.5 275v1M475.5 275v1M476.5 275v1M477.5 274v1M478.5 274v1M479.5 274v1M480.5 274v1M481.5 273v1M482.5 273v1M483.5 272v1M484.5 272v1M485.5 272v1M486.5 272v1M487.5 272v1M488.5 272v1M489.5 272v1M490.5 271v1M491.5 271v1M492.5 271v1M493.5 270v1M494.5 270v1M495.5 269v1M496.5 268v1M497.5 268v1M498.5 268v1M499.5 269v1M500.5 269v1M501.5 270v2M502.5 272v2M503.5 274v2M504.5 276v1M505.5 277v2M506.5 279v2M507.5 281v2M508.5 283v2M509.5 285v2M510.5 287v3M511.5 290v2M512.5 292v1M513.5 293v2M514.5 295v1M515.5 296v2M516.5 298v1M517.5 299v1M518.5 300v1M519.5 301v1M520.5 302v2M521.5 304v1M522.5 305v2M523.5 307v3M524.5 310v2M525.5 312v2M526.5 314v3M527.5 317v3M528.5 320v2M529.5 322v3M530.5 325v2M531.5 327v2M532.5 329v2M533.5 331v2M534.5 333v2M535.5 335v1M536.5 336v1M537.5 337v1M538.5 338v1M539.5 339v1M540.5 340v1M541.5 340v1M542.5 340v1M543.5 340v1M544.5 340v1M545.5 340v1M546.5 340v1M547.5 340v1M548.5 340v1M549.5 340v1M550.5 340v1M551.5 340v1M552.5 340v1M553.5 340v1M554.5 341v1M555.5 342v1M556.5 343v1M557.5 344v1M558.5 345v2M559.5 347v1M560.5 348v1M561.5 349v1M562.5 349v1M563.5 349v1M564.5 350v1M565.5 350v1M566.5 350v1M567.5 349v1M568.5 347v2M569.5 345v2M570.5 343v2M571.5 341v2M572.5 340v1M573.5 339v1M574.5 338v1M575.5 338v1M576.5 338v1M577.5 338v1M578.5 338v1M579.5 338v1M580.5 338v1M581.5 338v1M582.5 338v1M583.5 338v1M584.5 338v1M585.5 338v1M586.5 338v1M587.5 338v1M588.5 338v1M589.5 338v1M590.5 337v1M591.5 337v1M592.5 336v1M593.5 336v1M594.5 335v1M595.5 335v1M596.5 335v1M597.5 335v1M598.5 335v1M599.5 336v1M600.5 337v1M601.5 338v1M602.5 338v1M603.5 339v1M604.5 339v1M605.5 338v1M606.5 338v1M607.5 337v1M608.5 337v1M609.5 336v1M610.5 335v1M611.5 334v1M612.5 333v1M613.5 331v2M614.5 330v1M615.5 329v1M616.5 327v2M617.5 325v2M618.5 322v3M619.5 320v2M620.5 318v2M621.5 315v3M622.5 312v3M623.5 310v2M624.5 307v3M625.5 304v3M626.5 302v2M627.5 299v3M628.5 297v2M629.5 295v2M630.5 292v3M631.5 290v2M632.5 288v2M633.5 285v3M634.5 283v2M635.5 281v2M636.5 278v3M637.5 276v2M638.5 273v3M639.5 271v2M640.5 269v2M641.5 266v3M642.5 264v2M643.5 261v3M644.5 259v2M645.5 256v3M646.5 253v3M647.5 250v3M648.5 246v4M649.5 243v3M650.5 241v2M651.5 238v3M652.5 236v2M653.5 233v3M654.5 231v2M655.5 228v3M656.5 225v3M657.5 222v3M658.5 219v3M659.5 216v3M660.5 212v4M661.5 209v3M662.5 207v2M663.5 204v3M664.5 201v3M665.5 198v3M666.5 196v2M667.5 193v3M668.5 191v2M669.5 188v3M670.5 185v3M671.5 182v3M672.5 180v2M673.5 179v1M674.5 177v2M675.5 175v2M676.5 174v1M677.5 172v2M678.5 171v1M679.5 169v2M680.5 167v2M681.5 166v1M682.5 164v2M683.5 163v1M684.5 161v2M685.5 160v1M686.5 159v1M687.5 158v1M688.5 157v1M689.5 156v1M690.5 156v1M691.5 155v1M692.5 154v1M693.5 154v1M694.5 153v1M695.5 153v1M696.5 153v1M697.5 153v1M698.5 153v1M699.5 153v1M700.5 153v1M701.5 154v1M702.5 154v1M703.5 155v1M704.5 155v1M705.5 154v1M706.5 154v1M707.5 154v1M708.5 153v1M709.5 152v1M710.5 152v1M711.5 151v1M712.5 150v1M713.5 149v1M714.5 148v1M715.5 147v1M716.5 145v2M717.5 144v1M718.5 142v2M719.5 140v2M720.5 138v2M721.5 136v2M722.5 134v2M723.5 131v3M724.5 128v3M725.5 125v3M726.5 122v3M727.5 118v4M728.5 115v3M729.5 112v3M730.5 110v2M731.5 108v2M732.5 106v2M733.5 104v2M734.5 103v1M735.5 102v1M736.5 101v1M737.5 99v2M738.5 97v2M739.5 96v1M740.5 94v2M741.5 92v2M742.5 90v2M743.5 89v1M744.5 87v2M745.5 86v1M746.5 85v1M747.5 85v1M748.5 86v1M749.5 87v2M750.5 89v2M751.5 91v3M752.5 94v2M753.5 96v3M754.5 99v2M755.5 101v3M756.5 104v2M757.5 106v3M758.5 109v2M759.5 111v2M760.5 113v2M761.5 115v2M762.5 117v2M763.5 119v3M764.5 122v2M765.5 124v3M766.5 127v3M767.5 130v3M768.5 133v4M769.5 137v4M770.5 141v4M771.5 145v4M772.5 149v3M773.5 152v4M774.5 156v4M775.5 160v3M776.5 163v4M777.5 167v3M778.5 170v4M779.5 174v4M780.5 178v4M781.5 182v4M782.5 186v4M783.5 190v4M784.5 194v5M785.5 199v5M786.5 204v5M787.5 209v5M788.5 214v3M789.5 217v4M790.5 221v3M791.5 224v2M792.5 226v2M793.5 228v1M794.5 229v1M795.5 229v1M796.5 230v1M797.5 231v1M798.5 232v2M799.5 234v2M800.5 236v2M801.5 238v1M802.5 239v2M803.5 241v1M804.5 242v2M805.5 244v1M806.5 245v1M807.5 246v1M808.5 247v1M809.5 248v1M810.5 249v1M811.5 249v1M812.5 250v1M813.5 251v1M814.5 252v1M815.5 252v1M816.5 253v1M817.5 254v1M818.5 254v1M819.5 254v1M820.5 254v1M821.5 253v1M822.5 251v2M823.5 250v1M824.5 249v1M825.5 247v2M826.5 245v2M827.5 243v2M828.5 242v1M829.5 240v2M830.5 239v1M831.5 237v2M832.5 236v1M833.5 234v2M834.5 233v1M835.5 231v2M836.5 230v1M837.5 229v1M838.5 227v2M839.5 226v1M840.5 225v1M841.5 224v1M842.5 223v1M843.5 222v1M844.5 221v1M845.5 220v1M846.5 219v1M847.5 218v1M848.5 218v1M849.5 218v1M850.5 218v1M851.5 219v1M852.5 218v1M853.5 218v1M854.5 217v1M855.5 217v1M856.5 216v1M857.5 215v1M858.5 214v1M859.5 214v1M860.5 212v2M861.5 211v1M862.5 210v1M863.5 209v1M864.5 209v1M865.5 209v1M866.5 209v1M867.5 210v1M868.5 210v1M869.5 211v1M870.5 211v1M871.5 211v1M872.5 211v1M873.5 212v1M874.5 213v1M875.5 214v1M876.5 215v1M877.5 216v1M878.5 217v1M879.5 218v1M880.5 218v1M881.5 219v1M882.5 219v1M883.5 220v1M884.5 220v1M885.5 221v1M886.5 221v1M887.5 221v1M888.5 221v1M889.5 221v1M890.5 221v1M891.5 221v1M892.5 221v1M893.5 220v1M894.5 220v1M895.5 220v1M896.5 219v1M897.5 219v1M898.5 218v1M899.5 218v1M900.5 217v1M901.5 217v1M902.5 216v1M903.5 216v1M904.5 215v1M905.5 215v1M906.5 215v1M907.5 215v1M908.5 214v1M909.5 214v1M910.5 214v1M911.5 214v1M912.5 213v1M913.5 213v1M914.5 213v1M915.5 213v1M916.5 212v1M917.5 211v1M918.5 210v1M919.5 210v1M920.5 209v1M921.5 209v1M922.5 210v1M923.5 211v1M924.5 212v1M925.5 213v2M926.5 215v1M927.5 216v1" fill="none" stroke="#0000cd" stroke-width="1" shape-rendering="crispEdges"/>
<path d="M3.5 312v2M4.5 310v2M5.5 307v3M6.5 304v3M7.5 303v1M8.5 303v1M9.5 302v1M10.5 302v1M11.5 302v1M12.5 302v1M13.5 303v1M14.5 303v1M15.5 304v1M16.5 304v1M17.5 305v1M18.5 305v1M19.5 306v1M20.5 305v1M21.5 305v1M22.5 305v1M23.5 305v1M24.5 306v1M25.5 306v1M26.5 307v1M27.5 308v1M28.5 309v1M29.5 310v1M30.5 311v1M31.5 312v1M32.5 313v2M33.5 315v1M34.5 316v1M35.5 317v1M36.5 317v1M37.5 318v1M38.5 318v1M39.5 319v1M40.5 319v1M41.5 319v1M42.5 319v1M43.5 319v1M44.5 319v1M45.5 318v1M46.5 318v1M47.5 318v1M48.5 318v1M49.5 319v1M50.5 319v1M51.5 320v1M52.5 320v1M53.5 320v1M54.5 320v1M55.5 319v1M56.5 318v1M57.5 316v2M58.5 313v3M59.5 310v3M60.5 307v3M61.5 304v3M62.5 302v2M63.5 299v3M64.5 296v3M65.5 293v3M66.5 291v2M67.5 288v3M68.5 286v2M69.5 283v3M70.5 281v2M71.5 278v3M72.5 275v3M73.5 272v3M74.5 270v2M75.5 268v2M76.5 265v3M77.5 263v2M78.5 262v1M79.5 260v2M80.5 259v1M81.5 259v1M82.5 259v1M83.5 259v1M84.5 259v1M85.5 260v1M86.5 261v1M87.5 262v2M88.5 264v1M89.5 265v1M90.5 266v1M91.5 267v2M92.5 269v1M93.5 270v1M94.5 271v1M95.5 272v2M96.5 274v1M97.5 275v1M98.5 276v1M99.5 277v2M100.5 279v1M101.5 279v1M102.5 280v1M103.5 278v2M104.5 276v2M105.5 274v2M106.5 272v2M107.5 270v2M108.5 268v2M109.5 265v3M110.5 263v2M111.5 261v2M112.5 259v2M113.5 256v3M114.5 254v2M115.5 253v1M116.5 251v2M117.5 250v1M118.5 249v1M119.5 248v1M120.5 247v1M121.5 246v1M122.5 245v1M123.5 245v1M124.5 245v1M125.5 245v1M126.5 245v1M127.5 245v1M128.5 246v1M129.5 247v1M130.5 247v1M131.5 248v2M132.5 250v1M133.5 251v1M134.5 252v1M135.5 252v1M136.5 252v1M137.5 251v1M138.5 249v2M139.5 247v2M140.5 245v2M141.5 243v2M142.5 241v2M143.5 239v2M144.5 236v3M145.5 234v2M146.5 231v3M147.5 228v3M148.5 225v3M149.5 221v4M150.5 216v5M151.5 211v5M152.5 205v6M153.5 200v5M154.5 194v6M155.5 188v6M156.5 182v6M157.5 176v6M158.5 170v6M159.5 165v5M160.5 161v4M161.5 157v4M162.5 153v4M163.5 150v3M164.5 148v2M165.5 147v1M166.5 145v2M167.5 144v1M168.5 144v1M169.5 143v1M170.5 142v1M171.5 141v1M172.5 142v1M173.5 143v1M174.5 144v1M175.5 144v2M176.5 146v1M177.5 147v2M178.5 149v1M179.5 150v2M180.5 152v2M181.5 154v4M182.5 158v4M183.5 162v4M184.5 166v5M185.5 171v3M186.5 174v4M187.5 178v3M188.5 181v4M189.5 185v3M190.5 188v2M191.5 190v2M192.5 192v2M193.5 194v1M194.5 195v1M195.5 196v1M196.5 197v1M197.5 198v1M198.5 199v1M199.5 200v1M200.5 200v1M201.5 200v1M202.5 200v1M203.5 200v1M204.5 200v1M205.5 200v1M206.5 199v1M207.5 199v1M208.5 199v1M209.5 198v1M210.5 198v1M211.5 197v1M212.5 197v1M213.5 196v1M214.5 195v1M215.5 195v1M216.5 194v1M217.5 193v1M218.5 192v1M219.5 192v1M220.5 191v1M221.5 190v1M222.5 190v1M223.5 189v1M224.5 189v1M225.5 188v1M226.5 188v1M227.5 187v1M228.5 187v1M229.5 186v1M230.5 185v1M231.5 184v1M232.5 182v2M233.5 181v1M234.5 180v1M235.5 178v2M236.5 177v1M237.5 175v2M238.5 174v1M239.5 172v2M240.5 168v4M241.5 164v4M242.5 162v2M243.5 160v2M244.5 159v1M245.5 157v2M246.5 155v2M247.5 153v2M248.5 150v3M249.5 148v2M250.5 146v2M251.5 143v3M252.5 140v3M253.5 138v2M254.5 135v3M255.5 132v3M256.5 129v3M257.5 126v3M258.5 122v4M259.5 118v4M260.5 114v4M261.5 111v3M262.5 108v3M263.5 107v1M264.5 105v2M265.5 104v1M266.5 103v1M267.5 102v1M268.5 101v1M269.5 100v1M270.5 100v1M271.5 99v1M272.5 99v1M273.5 99v1M274.5 98v2M275.5 100v1M276.5 101v2M277.5 103v1M278.5 104v2M279.5 106v3M280.5 109v2M281.5 111v3M282.5 114v3M283.5 117v3M284.5 120v4M285.5 124v3M286.5 127v3M287.5 130v4M288.5 134v3M289.5 137v4M290.5 141v3M291.5 144v3M292.5 147v3M293.5 150v3M294.5 153v2M295.5 155v2M296.5 157v2M297.5 159v2M298.5 161v1M299.5 162v1M300.5 162v1M301.5 163v1M302.5 164v1M303.5 164v1M304.5 164v1M305.5 164v1M306.5 164v1M307.5 165v1M308.5 165v1M309.5 166v1M310.5 167v1M311.5 167v1M312.5 166v1M313.5 165v2M314.5 164v1M315.5 162v2M316.5 161v1M317.5 160v1M318.5 159v1M319.5 158v1M320.5 157v1M321.5 156v1M322.5 156v1M323.5 155v1M324.5 154v1M325.5 153v1M326.5 153v1M327.5 152v1M328.5 152v1M329.5 152v1M330.5 153v1M331.5 153v1M332.5 154v1M333.5 155v1M334.5 155v1M335.5 156v1M336.5 157v1M337.5 157v1M338.5 157v1M339.5 157v1M340.5 157v1M341.5 158v1M342.5 158v1M343.5 158v1M344.5 158v1M345.5 158v1M346.5 158v1M347.5 158v1M348.5 158v1M349.5 158v1M350.5 158v1M351.5 158v1M352.5 159v1M353.5 159v1M354.5 159v1M355.5 159v1M356.5 159v1M357.5 158v1M358.5 157v1M359.5 156v1M360.5 155v1M361.5 154v1M362.5 154v1M363.5 153v1M364.5 152v1M365.5 152v1M366.5 152v1M367.5 153v1M368.5 153v1M369.5 154v1M370.5 155v2M371.5 157v1M372.5 158v1M373.5 159v2M374.5 161v3M375.5 164v2M376.5 166v2M377.5 168v2M378.5 170v3M379.5 173v2M380.5 175v2M381.5 177v2M382.5 179v3M383.5 182v2M384.5 184v2M385.5 186v3M386.5 189v4M387.5 193v4M388.5 197v3M389.5 200v2M390.5 202v2M391.5 204v3M392.5 207v2M393.5 209v2M394.5 211v1M395.5 212v1M396.5 213v1M397.5 214v1M398.5 214v1M399.5 213v1M400.5 213v1M401.5 213v1M402.5 212v1M403.5 211v1M404.5 211v1M405.5 210v1M406.5 209v1M407.5 208v1M408.5 207v1M409.5 208v1M410.5 209v1M411.5 210v1M412.5 211v2M413.5 213v1M414.5 214v2M415.5 216v1M416.5 217v1M417.5 218v1M418.5 218v1M419.5 218v1M420.5 218v1M421.5 218v1M422.5 218v1M423.5 217v1M424.5 217v1M425.5 217v1M426.5 218v1M427.5 219v1M428.5 220v2M429.5 222v2M430.5 224v3M431.5 227v2M432.5 229v3M433.5 232v2M434.5 234v2M435.5 236v1M436.5 237v2M437.5 239v1M438.5 240v1M439.5 241v1M440.5 242v1M441.5 243v1M442.5 244v2M443.5 246v2M444.5 248v2M445.5 250v2M446.5 252v2M447.5 254v2M448.5 256v3M449.5 259v2M450.5 261v3M451.5 264v3M452.5 267v3M453.5 270v3M454.5 273v3M455.5 276v2M456.5 278v2M457.5 280v1M458.5 281v1M459.5 282v2M460.5 284v1M461.5 284v1M462.5 285v1M463.5 285v1M464.5 285v1M465.5 285v1M466.5 284v1M467.5 283v1M468.5 282v2M469.5 281v1M470.5 280v1M471.5 279v1M472.5 277v2M473.5 276v1M474.5 275v1M475.5 274v1M476.5 272v2M477.5 271v1M478.5 270v1M479.5 269v1M480.5 267v2M481.5 266v1M482.5 265v1M483.5 264v1M484.5 263v1M485.5 262v1M486.5 261v1M487.5 260v1M488.5 259v1M489.5 259v1M490.5 259v1M491.5 259v1M492.5 260v1M493.5 260v1M494.5 261v1M495.5 262v1M496.5 262v1M497.5 263v2M498.5 265v1M499.5 266v2M500.5 268v4M501.5 272v5M502.5 277v2M503.5 279v3M504.5 282v5M505.5 287v4M506.5 291v3M507.5 294v4M508.5 298v3M509.5 301v4M510.5 305v3M511.5 308v3M512.5 311v1M513.5 312v2M514.5 314v1M515.5 314v1M516.5 315v1M517.5 316v1M518.5 317v1M519.5 318v1M520.5 319v1M521.5 320v2M522.5 322v4M523.5 326v3M524.5 329v3M525.5 332v3M526.5 335v2M527.5 337v1M528.5 338v2M529.5 340v1M530.5 341v1M531.5 342v1M532.5 342v1M533.5 343v1M534.5 343v1M535.5 342v1M536.5 341v1M537.5 339v2M538.5 338v1M539.5 338v1M540.5 339v1M541.5 340v1M542.5 340v1M543.5 341v1M544.5 342v1M545.5 343v2M546.5 345v2M547.5 347v2M548.5 349v1M549.5 350v1M550.5 351v1M551.5 351v1M552.5 350v1M553.5 350v1M554.5 349v1M555.5 348v1M556.5 346v2M557.5 344v2M558.5 343v1M559.5 342v1M560.5 341v1M561.5 340v1M562.5 340v1M563.5 340v1M564.5 340v1M565.5 341v1M566.5 342v1M567.5 343v1M568.5 343v1M569.5 343v1M570.5 343v1M571.5 342v1M572.5 342v1M573.5 341v1M574.5 340v1M575.5 340v1M576.5 339v1M577.5 339v1M578.5 338v1M579.5 337v1M580.5 336v1M581.5 336v1M582.5 335v1M583.5 334v1M584.5 334v1M585.5 334v1M586.5 334v1M587.5 334v1M588.5 334v1M589.5 334v1M590.5 334v1M591.5 334v1M592.5 333v1M593.5 333v1M594.5 333v1M595.5 333v1M596.5 333v1M597.5 334v1M598.5 335v1M599.5 336v1M600.5 337v1M601.5 338v1M602.5 339v1M603.5 339v1M604.5 340v1M605.5 340v1M606.5 339v1M607.5 338v1M608.5 338v1M609.5 336v2M610.5 335v1M611.5 333v2M612.5 332v1M613.5 330v2M614.5 327v3M615.5 325v2M616.5 322v3M617.5 319v3M618.5 315v4M619.5 312v3M620.5 308v4M621.5 304v4M622.5 300v4M623.5 297v3M624.5 293v4M625.5 289v4M626.5 285v4M627.5 280v5M628.5 276v4M629.5 272v4M630.5 267v5M631.5 262v5M632.5 259v3M633.5 255v4M634.5 252v3M635.5 249v3M636.5 248v1M637.5 246v2M638.5 245v1M639.5 244v1M640.5 243v1M641.5 242v1M642.5 241v1M643.5 240v1M644.5 239v1M645.5 238v1M646.5 237v1M647.5 235v2M648.5 234v1M649.5 232v2M650.5 230v2M651.5 228v2M652.5 226v2M653.5 224v2M654.5 222v2M655.5 219v3M656.5 216v3M657.5 212v4M658.5 208v4M659.5 204v4M660.5 200v4M661.5 196v4M662.5 190v6M663.5 185v5M664.5 180v5M665.5 175v5M666.5 170v5M667.5 167v3M668.5 164v3M669.5 161v3M670.5 158v3M671.5 156v2M672.5 153v3M673.5 151v2M674.5 149v2M675.5 148v1M676.5 147v1M677.5 146v1M678.5 145v1M679.5 145v1M680.5 145v1M681.5 145v1M682.5 145v1M683.5 146v1M684.5 147v2M685.5 149v2M686.5 151v2M687.5 153v2M688.5 155v2M689.5 157v2M690.5 159v2M691.5 161v1M692.5 162v1M693.5 163v1M694.5 164v1M695.5 165v1M696.5 166v1M697.5 166v1M698.5 166v1M699.5 166v1M700.5 166v1M701.5 165v1M702.5 165v1M703.5 163v2M704.5 160v3M705.5 157v3M706.5 153v4M707.5 150v3M708.5 147v3M709.5 144v3M710.5 141v3M711.5 139v2M712.5 136v3M713.5 134v2M714.5 132v2M715.5 131v1M716.5 129v2M717.5 126v3M718.5 123v3M719.5 120v3M720.5 117v3M721.5 115v2M722.5 112v3M723.5 110v2M724.5 107v3M725.5 104v3M726.5 101v3M727.5 98v3M728.5 95v3M729.5 94v1M730.5 92v2M731.5 91v1M732.5 90v1M733.5 89v1M734.5 89v1M735.5 88v1M736.5 88v1M737.5 87v1M738.5 86v1M739.5 84v2M740.5 83v1M741.5 82v1M742.5 80v2M743.5 79v1M744.5 78v1M745.5 77v1M746.5 77v1M747.5 77v2M748.5 79v2M749.5 81v2M750.5 83v4M751.5 87v5M752.5 92v5M753.5 97v5M754.5 102v6M755.5 108v5M756.5 113v5M757.5 118v4M758.5 122v4M759.5 126v4M760.5 130v3M761.5 133v4M762.5 137v3M763.5 140v4M764.5 144v4M765.5 148v4M766.5 152v5M767.5 157v5M768.5 162v5M769.5 167v6M770.5 173v6M771.5 179v6M772.5 185v6M773.5 191v6M774.5 197v6M775.5 203v4M776.5 207v4M777.5 211v3M778.5 214v2M779.5 216v1M780.5 217v2M781.5 219v1M782.5 220v1M783.5 221v2M784.5 223v2M785.5 225v2M786.5 227v2M787.5 229v3M788.5 232v2M789.5 234v3M790.5 237v2M791.5 239v2M792.5 241v2M793.5 243v2M794.5 245v1M795.5 246v2M796.5 248v1M797.5 249v1M798.5 250v1M799.5 251v1M800.5 252v1M801.5 252v1M802.5 253v1M803.5 254v1M804.5 253v1M805.5 253v1M806.5 253v1M807.5 252v1M808.5 252v1M809.5 252v1M810.5 252v1M811.5 252v1M812.5 252v1M813.5 252v1M814.5 253v1M815.5 253v1M816.5 253v1M817.5 254v1M818.5 255v1M819.5 254v2M820.5 253v1M821.5 251v2M822.5 249v2M823.5 247v2M824.5 245v2M825.5 243v2M826.5 241v2M827.5 239v2M828.5 237v2M829.5 235v2M830.5 233v2M831.5 231v2M832.5 229v2M833.5 227v2M834.5 225v2M835.5 223v2M836.5 221v2M837.5 219v2M838.5 217v2M839.5 216v1M840.5 214v2M841.5 212v2M842.5 210v2M843.5 208v2M844.5 206v2M845.5 204v2M846.5 203v1M847.5 202v1M848.5 201v1M849.5 200v1M850.5 200v2M851.5 202v1M852.5 203v2M853.5 205v2M854.5 207v2M855.5 209v2M856.5 211v2M857.5 213v1M858.5 214v1M859.5 215v1M860.5 216v1M861.5 216v1M862.5 217v1M863.5 217v1M864.5 218v1M865.5 218v1M866.5 219v1M867.5 219v1M868.5 219v1M869.5 219v1M870.5 219v1M871.5 219v1M872.5 220v1M873.5 221v1M874.5 222v1M875.5 223v1M876.5 223v1M877.5 223v1M878.5 223v1M879.5 222v1M880.5 221v1M881.5 220v1M882.5 219v1M883.5 218v1M884.5 217v1M885.5 217v1M886.5 217v1M887.5 217v1M888.5 217v1M889.5 218v1M890.5 219v1M891.5 219v1M892.5 220v1M893.5 221v1M894.5 221v1M895.5 222v1M896.5 223v1M897.5 223v1M898.5 223v1M899.5 223v1M900.5 223v1M901.5 221v2M902.5 220v1M903.5 219v1M904.5 217v2M905.5 216v1M906.5 215v1M907.5 214v1M908.5 213v1M909.5 212v1M910.5 211v1M911.5 210v1M912.5 209v1M913.5 208v1M914.5 208v1M915.5 207v1M916.5 207v1M917.5 206v1M918.5 205v1M919.5 204v1M920.5 204v1M921.5 205v1M922.5 206v2M923.5 208v1M924.5 209v2M925.5 211v1M926.5 212v1" fill="none" stroke="#ff0000" stroke-width="1" shape-rendering="crispEdges"/>
<g shape-rendering="crispEdges">
<rect x="3" y="129" width="1162" height="2" fill="#ff0000" />
<rect x="2" y="127" width="6" height="6" fill="#ff0000" />
<rect x="4" y="129" width="2" height="2" fill="#fff" />
<rect x="1159" y="127" width="6" height="6" fill="#ff0000" />
<rect x="1161" y="129" width="2" height="2" fill="#fff" />
<rect x="3" y="203" width="1162" height="2" fill="#ff0000" />
<rect x="2" y="201" width="6" height="6" fill="#ff0000" />
<rect x="4" y="203" width="2" height="2" fill="#fff" />
<rect x="1159" y="201" width="6" height="6" fill="#ff0000" />
<rect x="1161" y="203" width="2" height="2" fill="#fff" />
<rect x="3" y="277" width="1162" height="2" fill="#00ff00" />
<rect x="2" y="275" width="6" height="6" fill="#00ff00" />
<rect x="4" y="277" width="2" height="2" fill="#fff" />
<rect x="1159" y="275" width="6" height="6" fill="#00ff00" />
<rect x="1161" y="277" width="2" height="2" fill="#fff" />
<rect x="3" y="350" width="1162" height="2" fill="#0000ff" />
<rect x="2.5" y="439" width="2" height="3" fill="#c0c0c0" />
<rect x="4.5" y="437" width="2" height="5" fill="#c0c0c0" />
<rect x="6.5" y="438" width="2" height="4" fill="#c0c0c0" />
<rect x="8.5" y="439" width="2" height="3" fill="#c0c0c0" />
<rect x="10.5" y="440" width="2" height="2" fill="#c0c0c0" />
<rect x="12.5" y="441" width="2" height="1" fill="#c0c0c0" />
<rect x="18.5" y="442" width="2" height="1" fill="#c0c0c0" />
<rect x="20.5" y="442" width="2" height="1" fill="#c0c0c0" />
<rect x="22.5" y="442" width="2" height="2" fill="#c0c0c0" />
<rect x="24.5" y="442" width="2" height="2" fill="#c0c0c0" />
<rect x="26.5" y="442" width="2" height="3" fill="#c0c0c0" />
<rect x="28.5" y="442" width="2" height="3" fill="#c0c0c0" />
<rect x="30.5" y="442" width="2" height="4" fill="#c0c0c0" />
<rect x="32.5" y="442" width="2" height="4" fill="#c0c0c0" />
<rect x="34.5" y="442" width="2" height="5" fill="#c0c0c0" />
<rect x="36.5" y="442" width="2" height="4" fill="#c0c0c0" />
<rect x="38.5" y="442" width="2" height="4" fill="#c0c0c0" />
<rect x="40.5" y="442" width="2" height="3" fill="#c0c0c0" />
<rect x="42.5" y="442" width="2" height="2" fill="#c0c0c0" />
<rect x="44.5" y="442" width="2" height="2" fill="#c0c0c0" />
<rect x="46.5" y="442" width="2" height="1" fill="#c0c0c0" />
<rect x="48.5" y="442" width="2" height="1" fill="#c0c0c0" />
<rect x="50.5" y="442" width="2" height="1" fill="#c0c0c0" />
<rect x="56.5" y="440" width="2" height="2" fill="#c0c0c0" />
<rect x="58.5" y="436" width="2" height="6" fill="#c0c0c0" />
<rect x="60.5" y="435" width="2" height="7" fill="#c0c0c0" />
<rect x="62.5" y="434" width="2" height="8" fill="#c0c0c0" />
<rect x="64.5" y="432" width="2" height="10" fill="#c0c0c0" />
<rect x="66.5" y="430" width="2" height="12" fill="#c0c0c0" />
<rect x="68.5" y="427" width="2" height="15" fill="#c0c0c0" />
<rect x="70.5" y="426" width="2" height="16" fill="#c0c0c0" />
<rect x="72.5" y="425" width="2" height="17" fill="#c0c0c0" />
<rect x="74.5" y="426" width="2" height="16" fill="#c0c0c0" />
<rect x="76.5" y="428" width="2" height="14" fill="#c0c0c0" />
<rect x="78.5" y="430" width="2" height="12" fill="#c0c0c0" />
<rect x="80.5" y="433" width="2" height="9" fill="#c0c0c0" />
<rect x="82.5" y="435" width="2" height="7" fill="#c0c0c0" />
<rect x="84.5" y="438" width="2" height="4" fill="#c0c0c0" />
<rect x="86.5" y="440" width="2" height="2" fill="#c0c0c0" />
<rect x="88.5" y="441" width="2" height="1" fill="#c0c0c0" />
<rect x="100.5" y="438" width="2" height="4" fill="#c0c0c0" />
<rect x="102.5" y="435" width="2" height="7" fill="#c0c0c0" />
<rect x="104.5" y="433" width="2" height="9" fill="#c0c0c0" />
<rect x="106.5" y="432" width="2" height="10" fill="#c0c0c0" />
<rect x="108.5" y="431" width="2" height="11" fill="#c0c0c0" />
<rect x="110.5" y="431" width="2" height="11" fill="#c0c0c0" />
<rect x="112.5" y="431" width="2" height="11" fill="#c0c0c0" />
<rect x="114.5" y="432" width="2" height="10" fill="#c0c0c0" />
<rect x="116.5" y="433" width="2" height="9" fill="#c0c0c0" />
<rect x="118.5" y="435" width="2" height="7" fill="#c0c0c0" />
<rect x="120.5" y="436" width="2" height="6" fill="#c0c0c0" />
<rect x="122.5" y="438" width="2" height="4" fill="#c0c0c0" />
<rect x="124.5" y="439" width="2" height="3" fill="#c0c0c0" />
<rect x="126.5" y="440" width="2" height="2" fill="#c0c0c0" />
<rect x="128.5" y="440" width="2" height="2" fill="#c0c0c0" />
<rect x="130.5" y="441" width="2" height="1" fill="#c0c0c0" />
<rect x="132.5" y="441" width="2" height="1" fill="#c0c0c0" />
<rect x="134.5" y="441" width="2" height="1" fill="#c0c0c0" />
<rect x="136.5" y="438" width="2" height="4" fill="#c0c0c0" />
<rect x="138.5" y="435" width="2" height="7" fill="#c0c0c0" />
<rect x="140.5" y="433" width="2" height="9" fill="#c0c0c0" />
<rect x="142.5" y="430" width="2" height="12" fill="#c0c0c0" />
<rect x="144.5" y="427" width="2" height="15" fill="#c0c0c0" />
<rect x="146.5" y="425" width="2" height="17" fill="#c0c0c0" />
<rect x="148.5" y="424" width="2" height="18" fill="#c0c0c0" />
<rect x="150.5" y="422" width="2" height="20" fill="#c0c0c0" />
<rect x="152.5" y="419" width="2" height="23" fill="#c0c0c0" />
<rect x="154.5" y="417" width="2" height="25" fill="#c0c0c0" />
<rect x="156.5" y="414" width="2" height="28" fill="#c0c0c0" />
<rect x="158.5" y="412" width="2" height="30" fill="#c0c0c0" />
<rect x="160.5" y="411" width="2" height="31" fill="#c0c0c0" />
<rect x="162.5" y="412" width="2" height="30" fill="#c0c0c0" />
<rect x="164.5" y="415" width="2" height="27" fill="#c0c0c0" />
<rect x="166.5" y="419" width="2" height="23" fill="#c0c0c0" />
<rect x="168.5" y="422" width="2" height="20" fill="#c0c0c0" />
<rect x="170.5" y="425" width="2" height="17" fill="#c0c0c0" />
<rect x="172.5" y="428" width="2" height="14" fill="#c0c0c0" />
<rect x="174.5" y="432" width="2" height="10" fill="#c0c0c0" />
<rect x="176.5" y="435" width="2" height="7" fill="#c0c0c0" />
<rect x="178.5" y="438" width="2" height="4" fill="#c0c0c0" />
<rect x="180.5" y="440" width="2" height="2" fill="#c0c0c0" />
<rect x="184.5" y="442" width="2" height="2" fill="#c0c0c0" />
<rect x="186.5" y="442" width="2" height="5" fill="#c0c0c0" />
<rect x="188.5" y="442" width="2" height="5" fill="#c0c0c0" />
<rect x="190.5" y="442" width="2" height="4" fill="#c0c0c0" />
<rect x="192.5" y="442" width="2" height="1" fill="#c0c0c0" />
<rect x="218.5" y="440" width="2" height="2" fill="#c0c0c0" />
<rect x="220.5" y="438" width="2" height="4" fill="#c0c0c0" />
<rect x="222.5" y="438" width="2" height="4" fill="#c0c0c0" />
<rect x="224.5" y="439" width="2" height="3" fill="#c0c0c0" />
<rect x="226.5" y="439" width="2" height="3" fill="#c0c0c0" />
<rect x="228.5" y="438" width="2" height="4" fill="#c0c0c0" />
<rect x="230.5" y="437" width="2" height="5" fill="#c0c0c0" />
<rect x="232.5" y="436" width="2" height="6" fill="#c0c0c0" />
<rect x="234.5" y="436" width="2" height="6" fill="#c0c0c0" />
<rect x="236.5" y="435" width="2" height="7" fill="#c0c0c0" />
<rect x="238.5" y="434" width="2" height="8" fill="#c0c0c0" />
<rect x="240.5" y="433" width="2" height="9" fill="#c0c0c0" />
<rect x="242.5" y="433" width="2" height="9" fill="#c0c0c0" />
<rect x="244.5" y="432" width="2" height="10" fill="#c0c0c0" />
<rect x="246.5" y="432" width="2" height="10" fill="#c0c0c0" />
<rect x="248.5" y="427" width="2" height="15" fill="#c0c0c0" />
<rect x="250.5" y="424" width="2" height="18" fill="#c0c0c0" />
<rect x="252.5" y="423" width="2" height="19" fill="#c0c0c0" />
<rect x="254.5" y="421" width="2" height="21" fill="#c0c0c0" />
<rect x="256.5" y="420" width="2" height="22" fill="#c0c0c0" />
<rect x="258.5" y="420" width="2" height="22" fill="#c0c0c0" />
<rect x="260.5" y="421" width="2" height="21" fill="#c0c0c0" />
<rect x="262.5" y="423" width="2" height="19" fill="#c0c0c0" />
<rect x="264.5" y="425" width="2" height="17" fill="#c0c0c0" />
<rect x="266.5" y="427" width="2" height="15" fill="#c0c0c0" />
<rect x="268.5" y="429" width="2" height="13" fill="#c0c0c0" />
<rect x="270.5" y="432" width="2" height="10" fill="#c0c0c0" />
<rect x="272.5" y="434" width="2" height="8" fill="#c0c0c0" />
<rect x="274.5" y="436" width="2" height="6" fill="#c0c0c0" />
<rect x="276.5" y="437" width="2" height="5" fill="#c0c0c0" />
<rect x="278.5" y="439" width="2" height="3" fill="#c0c0c0" />
<rect x="280.5" y="441" width="2" height="1" fill="#c0c0c0" />
<rect x="282.5" y="442" width="2" height="3" fill="#c0c0c0" />
<rect x="284.5" y="442" width="2" height="7" fill="#c0c0c0" />
<rect x="286.5" y="442" width="2" height="10" fill="#c0c0c0" />
<rect x="288.5" y="442" width="2" height="11" fill="#c0c0c0" />
<rect x="290.5" y="442" width="2" height="12" fill="#c0c0c0" />
<rect x="292.5" y="442" width="2" height="11" fill="#c0c0c0" />
<rect x="294.5" y="442" width="2" height="11" fill="#c0c0c0" />
<rect x="296.5" y="442" width="2" height="10" fill="#c0c0c0" />
<rect x="298.5" y="442" width="2" height="9" fill="#c0c0c0" />
<rect x="300.5" y="442" width="2" height="7" fill="#c0c0c0" />
<rect x="302.5" y="442" width="2" height="5" fill="#c0c0c0" />
<rect x="304.5" y="442" width="2" height="3" fill="#c0c0c0" />
<rect x="306.5" y="442" width="2" height="4" fill="#c0c0c0" />
<rect x="308.5" y="442" width="2" height="4" fill="#c0c0c0" />
<rect x="310.5" y="442" width="2" height="4" fill="#c0c0c0" />
<rect x="312.5" y="442" width="2" height="4" fill="#c0c0c0" />
<rect x="314.5" y="442" width="2" height="5" fill="#c0c0c0" />
<rect x="316.5" y="442" width="2" height="5" fill="#c0c0c0" />
<rect x="318.5" y="442" width="2" height="5" fill="#c0c0c0" />
<rect x="320.5" y="442" width="2" height="5" fill="#c0c0c0" />
<rect x="322.5" y="442" width="2" height="4" fill="#c0c0c0" />
<rect x="324.5" y="442" width="2" height="3" fill="#c0c0c0" />
<rect x="326.5" y="442" width="2" height="2" fill="#c0c0c0" />
<rect x="328.5" y="442" width="2" height="1" fill="#c0c0c0" />
<rect x="330.5" y="442" width="2" height="2" fill="#c0c0c0" />
<rect x="332.5" y="442" width="2" height="2" fill="#c0c0c0" />
<rect x="334.5" y="442" width="2" height="2" fill="#c0c0c0" />
<rect x="336.5" y="442" width="2" height="2" fill="#c0c0c0" />
<rect x="338.5" y="442" width="2" height="3" fill="#c0c0c0" />
<rect x="340.5" y="442" width="2" height="4" fill="#c0c0c0" />
<rect x="342.5" y="442" width="2" height="4" fill="#c0c0c0" />
<rect x="344.5" y="442" width="2" height="5" fill="#c0c0c0" />
<rect x="346.5" y="442" width="2" height="4" fill="#c0c0c0" />
<rect x="348.5" y="442" width="2" height="3" fill="#c0c0c0" />
<rect x="350.5" y="442" width="2" height="3" fill="#c0c0c0" />
<rect x="352.5" y="442" width="2" height="2" fill="#c0c0c0" />
<rect x="354.5" y="442" width="2" height="1" fill="#c0c0c0" />
<rect x="356.5" y="441" width="2" height="1" fill="#c0c0c0" />
<rect x="358.5" y="439" width="2" height="3" fill="#c0c0c0" />
<rect x="360.5" y="438" width="2" height="4" fill="#c0c0c0" />
<rect x="362.5" y="438" width="2" height="4" fill="#c0c0c0" />
<rect x="364.5" y="439" width="2" height="3" fill="#c0c0c0" />
<rect x="366.5" y="441" width="2" height="1" fill="#c0c0c0" />
<rect x="368.5" y="442" width="2" height="2" fill="#c0c0c0" />
<rect x="370.5" y="442" width="2" height="6" fill="#c0c0c0" />
<rect x="372.5" y="442" width="2" height="9" fill="#c0c0c0" />
<rect x="374.5" y="442" width="2" height="12" fill="#c0c0c0" />
<rect x="376.5" y="442" width="2" height="14" fill="#c0c0c0" />
<rect x="378.5" y="442" width="2" height="16" fill="#c0c0c0" />
<rect x="380.5" y="442" width="2" height="16" fill="#c0c0c0" />
<rect x="382.5" y="442" width="2" height="15" fill="#c0c0c0" />
<rect x="384.5" y="442" width="2" height="15" fill="#c0c0c0" />
<rect x="386.5" y="442" width="2" height="15" fill="#c0c0c0" />
<rect x="388.5" y="442" width="2" height="15" fill="#c0c0c0" />
<rect x="390.5" y="442" width="2" height="14" fill="#c0c0c0" />
<rect x="392.5" y="442" width="2" height="14" fill="#c0c0c0" />
<rect x="394.5" y="442" width="2" height="13" fill="#c0c0c0" />
<rect x="396.5" y="442" width="2" height="12" fill="#c0c0c0" />
<rect x="398.5" y="442" width="2" height="10" fill="#c0c0c0" />
<rect x="400.5" y="442" width="2" height="9" fill="#c0c0c0" />
<rect x="402.5" y="442" width="2" height="9" fill="#c0c0c0" />
<rect x="404.5" y="442" width="2" height="10" fill="#c0c0c0" />
<rect x="406.5" y="442" width="2" height="10" fill="#c0c0c0" />
<rect x="408.5" y="442" width="2" height="11" fill="#c0c0c0" />
<rect x="410.5" y="442" width="2" height="12" fill="#c0c0c0" />
<rect x="412.5" y="442" width="2" height="13" fill="#c0c0c0" />
<rect x="414.5" y="442" width="2" height="13" fill="#c0c0c0" />
<rect x="416.5" y="442" width="2" height="12" fill="#c0c0c0" />
<rect x="418.5" y="442" width="2" height="11" fill="#c0c0c0" />
<rect x="420.5" y="442" width="2" height="9" fill="#c0c0c0" />
<rect x="422.5" y="442" width="2" height="7" fill="#c0c0c0" />
<rect x="424.5" y="442" width="2" height="6" fill="#c0c0c0" />
<rect x="426.5" y="442" width="2" height="6" fill="#c0c0c0" />
<rect x="428.5" y="442" width="2" height="8" fill="#c0c0c0" />
<rect x="430.5" y="442" width="2" height="10" fill="#c0c0c0" />
<rect x="432.5" y="442" width="2" height="12" fill="#c0c0c0" />
<rect x="434.5" y="442" width="2" height="14" fill="#c0c0c0" />
<rect x="436.5" y="442" width="2" height="15" fill="#c0c0c0" />
<rect x="438.5" y="442" width="2" height="16" fill="#c0c0c0" />
<rect x="440.5" y="442" width="2" height="17" fill="#c0c0c0" />
<rect x="442.5" y="442" width="2" height="17" fill="#c0c0c0" />
<rect x="444.5" y="442" width="2" height="17" fill="#c0c0c0" />
<rect x="446.5" y="442" width="2" height="17" fill="#c0c0c0" />
<rect x="448.5" y="442" width="2" height="18" fill="#c0c0c0" />
<rect x="450.5" y="442" width="2" height="18" fill="#c0c0c0" />
<rect x="452.5" y="442" width="2" height="18" fill="#c0c0c0" />
<rect x="454.5" y="442" width="2" height="18" fill="#c0c0c0" />
<rect x="456.5" y="442" width="2" height="18" fill="#c0c0c0" />
<rect x="458.5" y="442" width="2" height="18" fill="#c0c0c0" />
<rect x="460.5" y="442" width="2" height="16" fill="#c0c0c0" />
<rect x="462.5" y="442" width="2" height="15" fill="#c0c0c0" />
<rect x="464.5" y="442" width="2" height="12" fill="#c0c0c0" />
<rect x="466.5" y="442" width="2" height="9" fill="#c0c0c0" />
<rect x="468.5" y="442" width="2" height="7" fill="#c0c0c0" />
<rect x="470.5" y="442" width="2" height="5" fill="#c0c0c0" />
<rect x="472.5" y="442" width="2" height="3" fill="#c0c0c0" />
<rect x="474.5" y="442" width="2" height="2" fill="#c0c0c0" />
<rect x="476.5" y="442" width="2" height="2" fill="#c0c0c0" />
<rect x="478.5" y="442" width="2" height="2" fill="#c0c0c0" />
<rect x="480.5" y="442" width="2" height="2" fill="#c0c0c0" />
<rect x="482.5" y="442" width="2" height="3" fill="#c0c0c0" />
<rect x="484.5" y="442" width="2" height="3" fill="#c0c0c0" />
<rect x="486.5" y="442" width="2" height="4" fill="#c0c0c0" />
<rect x="488.5" y="442" width="2" height="4" fill="#c0c0c0" />
<rect x="490.5" y="442" width="2" height="5" fill="#c0c0c0" />
<rect x="492.5" y="442" width="2" height="5" fill="#c0c0c0" />
<rect x="494.5" y="442" width="2" height="5" fill="#c0c0c0" />
<rect x="496.5" y="442" width="2" height="6" fill="#c0c0c0" />
<rect x="498.5" y="442" width="2" height="8" fill="#c0c0c0" />
<rect x="500.5" y="442" width="2" height="12" fill="#c0c0c0" />
<rect x="502.5" y="442" width="2" height="15" fill="#c0c0c0" />
<rect x="504.5" y="442" width="2" height="17" fill="#c0c0c0" />
<rect x="506.5" y="442" width="2" height="19" fill="#c0c0c0" />
<rect x="508.5" y="442" width="2" height="21" fill="#c0c0c0" />
<rect x="510.5" y="442" width="2" height="21" fill="#c0c0c0" />
<rect x="512.5" y="442" width="2" height="18" fill="#c0c0c0" />
<rect x="514.5" y="442" width="2" height="15" fill="#c0c0c0" />
<rect x="516.5" y="442" width="2" height="12" fill="#c0c0c0" />
<rect x="518.5" y="442" width="2" height="10" fill="#c0c0c0" />
<rect x="520.5" y="442" width="2" height="11" fill="#c0c0c0" />
<rect x="522.5" y="442" width="2" height="13" fill="#c0c0c0" />
<rect x="524.5" y="442" width="2" height="17" fill="#c0c0c0" />
<rect x="526.5" y="442" width="2" height="18" fill="#c0c0c0" />
<rect x="528.5" y="442" width="2" height="20" fill="#c0c0c0" />
<rect x="530.5" y="442" width="2" height="20" fill="#c0c0c0" />
<rect x="532.5" y="442" width="2" height="20" fill="#c0c0c0" />
<rect x="534.5" y="442" width="2" height="17" fill="#c0c0c0" />
<rect x="536.5" y="442" width="2" height="15" fill="#c0c0c0" />
<rect x="538.5" y="442" width="2" height="13" fill="#c0c0c0" />
<rect x="540.5" y="442" width="2" height="11" fill="#c0c0c0" />
<rect x="542.5" y="442" width="2" height="9" fill="#c0c0c0" />
<rect x="544.5" y="442" width="2" height="8" fill="#c0c0c0" />
<rect x="546.5" y="442" width="2" height="9" fill="#c0c0c0" />
<rect x="548.5" y="442" width="2" height="9" fill="#c0c0c0" />
<rect x="550.5" y="442" width="2" height="10" fill="#c0c0c0" />
<rect x="552.5" y="442" width="2" height="10" fill="#c0c0c0" />
<rect x="554.5" y="442" width="2" height="9" fill="#c0c0c0" />
<rect x="556.5" y="442" width="2" height="9" fill="#c0c0c0" />
<rect x="558.5" y="442" width="2" height="8" fill="#c0c0c0" />
<rect x="560.5" y="442" width="2" height="7" fill="#c0c0c0" />
<rect x="562.5" y="442" width="2" height="6" fill="#c0c0c0" />
<rect x="564.5" y="442" width="2" height="6" fill="#c0c0c0" />
<rect x="566.5" y="442" width="2" height="5" fill="#c0c0c0" />
<rect x="568.5" y="442" width="2" height="4" fill="#c0c0c0" />
<rect x="570.5" y="442" width="2" height="1" fill="#c0c0c0" />
<rect x="572.5" y="442" width="2" height="1" fill="#c0c0c0" />
<rect x="574.5" y="442" width="2" height="1" fill="#c0c0c0" />
<rect x="576.5" y="442" width="2" height="1" fill="#c0c0c0" />
<rect x="578.5" y="442" width="2" height="1" fill="#c0c0c0" />
<rect x="582.5" y="441" width="2" height="1" fill="#c0c0c0" />
<rect x="584.5" y="441" width="2" height="1" fill="#c0c0c0" />
<rect x="594.5" y="442" width="2" height="1" fill="#c0c0c0" />
<rect x="596.5" y="442" width="2" height="2" fill="#c0c0c0" />
<rect x="598.5" y="442" width="2" height="4" fill="#c0c0c0" />
<rect x="600.5" y="442" width="2" height="5" fill="#c0c0c0" />
<rect x="602.5" y="442" width="2" height="5" fill="#c0c0c0" />
<rect x="604.5" y="442" width="2" height="4" fill="#c0c0c0" />
<rect x="606.5" y="442" width="2" height="2" fill="#c0c0c0" />
<rect x="610.5" y="437" width="2" height="5" fill="#c0c0c0" />
<rect x="612.5" y="434" width="2" height="8" fill="#c0c0c0" />
<rect x="614.5" y="431" width="2" height="11" fill="#c0c0c0" />
<rect x="616.5" y="429" width="2" height="13" fill="#c0c0c0" />
<rect x="618.5" y="426" width="2" height="16" fill="#c0c0c0" />
<rect x="620.5" y="424" width="2" height="18" fill="#c0c0c0" />
<rect x="622.5" y="422" width="2" height="20" fill="#c0c0c0" />
<rect x="624.5" y="421" width="2" height="21" fill="#c0c0c0" />
<rect x="626.5" y="420" width="2" height="22" fill="#c0c0c0" />
<rect x="628.5" y="420" width="2" height="22" fill="#c0c0c0" />
<rect x="630.5" y="420" width="2" height="22" fill="#c0c0c0" />
<rect x="632.5" y="420" width="2" height="22" fill="#c0c0c0" />
<rect x="634.5" y="421" width="2" height="21" fill="#c0c0c0" />
<rect x="636.5" y="423" width="2" height="19" fill="#c0c0c0" />
<rect x="638.5" y="424" width="2" height="18" fill="#c0c0c0" />
<rect x="640.5" y="426" width="2" height="16" fill="#c0c0c0" />
<rect x="642.5" y="427" width="2" height="15" fill="#c0c0c0" />
<rect x="644.5" y="426" width="2" height="16" fill="#c0c0c0" />
<rect x="646.5" y="425" width="2" height="17" fill="#c0c0c0" />
<rect x="648.5" y="424" width="2" height="18" fill="#c0c0c0" />
<rect x="650.5" y="422" width="2" height="20" fill="#c0c0c0" />
<rect x="652.5" y="420" width="2" height="22" fill="#c0c0c0" />
<rect x="654.5" y="418" width="2" height="24" fill="#c0c0c0" />
<rect x="656.5" y="415" width="2" height="27" fill="#c0c0c0" />
<rect x="658.5" y="413" width="2" height="29" fill="#c0c0c0" />
<rect x="660.5" y="410" width="2" height="32" fill="#c0c0c0" />
<rect x="662.5" y="409" width="2" height="33" fill="#c0c0c0" />
<rect x="664.5" y="409" width="2" height="33" fill="#c0c0c0" />
<rect x="666.5" y="410" width="2" height="32" fill="#c0c0c0" />
<rect x="668.5" y="411" width="2" height="31" fill="#c0c0c0" />
<rect x="670.5" y="413" width="2" height="29" fill="#c0c0c0" />
<rect x="672.5" y="416" width="2" height="26" fill="#c0c0c0" />
<rect x="674.5" y="419" width="2" height="23" fill="#c0c0c0" />
<rect x="676.5" y="421" width="2" height="21" fill="#c0c0c0" />
<rect x="678.5" y="424" width="2" height="18" fill="#c0c0c0" />
<rect x="680.5" y="427" width="2" height="15" fill="#c0c0c0" />
<rect x="682.5" y="429" width="2" height="13" fill="#c0c0c0" />
<rect x="684.5" y="430" width="2" height="12" fill="#c0c0c0" />
<rect x="686.5" y="431" width="2" height="11" fill="#c0c0c0" />
<rect x="688.5" y="433" width="2" height="9" fill="#c0c0c0" />
<rect x="690.5" y="433" width="2" height="9" fill="#c0c0c0" />
<rect x="692.5" y="434" width="2" height="8" fill="#c0c0c0" />
<rect x="694.5" y="433" width="2" height="9" fill="#c0c0c0" />
<rect x="696.5" y="433" width="2" height="9" fill="#c0c0c0" />
<rect x="698.5" y="433" width="2" height="9" fill="#c0c0c0" />
<rect x="700.5" y="432" width="2" height="10" fill="#c0c0c0" />
<rect x="702.5" y="432" width="2" height="10" fill="#c0c0c0" />
<rect x="704.5" y="430" width="2" height="12" fill="#c0c0c0" />
<rect x="706.5" y="427" width="2" height="15" fill="#c0c0c0" />
<rect x="708.5" y="426" width="2" height="16" fill="#c0c0c0" />
<rect x="710.5" y="425" width="2" height="17" fill="#c0c0c0" />
<rect x="712.5" y="425" width="2" height="17" fill="#c0c0c0" />
<rect x="714.5" y="425" width="2" height="17" fill="#c0c0c0" />
<rect x="716.5" y="425" width="2" height="17" fill="#c0c0c0" />
<rect x="718.5" y="425" width="2" height="17" fill="#c0c0c0" />
<rect x="720.5" y="424" width="2" height="18" fill="#c0c0c0" />
<rect x="722.5" y="424" width="2" height="18" fill="#c0c0c0" />
<rect x="724.5" y="423" width="2" height="19" fill="#c0c0c0" />
<rect x="726.5" y="422" width="2" height="20" fill="#c0c0c0" />
<rect x="728.5" y="421" width="2" height="21" fill="#c0c0c0" />
<rect x="730.5" y="423" width="2" height="19" fill="#c0c0c0" />
<rect x="732.5" y="424" width="2" height="18" fill="#c0c0c0" />
<rect x="734.5" y="425" width="2" height="17" fill="#c0c0c0" />
<rect x="736.5" y="426" width="2" height="16" fill="#c0c0c0" />
<rect x="738.5" y="426" width="2" height="16" fill="#c0c0c0" />
<rect x="740.5" y="426" width="2" height="16" fill="#c0c0c0" />
<rect x="742.5" y="426" width="2" height="16" fill="#c0c0c0" />
<rect x="744.5" y="427" width="2" height="15" fill="#c0c0c0" />
<rect x="746.5" y="430" width="2" height="12" fill="#c0c0c0" />
<rect x="748.5" y="436" width="2" height="6" fill="#c0c0c0" />
<rect x="750.5" y="441" width="2" height="1" fill="#c0c0c0" />
<rect x="752.5" y="442" width="2" height="8" fill="#c0c0c0" />
<rect x="754.5" y="442" width="2" height="13" fill="#c0c0c0" />
<rect x="756.5" y="442" width="2" height="16" fill="#c0c0c0" />
<rect x="758.5" y="442" width="2" height="18" fill="#c0c0c0" />
<rect x="760.5" y="442" width="2" height="18" fill="#c0c0c0" />
<rect x="762.5" y="442" width="2" height="19" fill="#c0c0c0" />
<rect x="764.5" y="442" width="2" height="19" fill="#c0c0c0" />
<rect x="766.5" y="442" width="2" height="21" fill="#c0c0c0" />
<rect x="768.5" y="442" width="2" height="23" fill="#c0c0c0" />
<rect x="770.5" y="442" width="2" height="24" fill="#c0c0c0" />
<rect x="772.5" y="442" width="2" height="25" fill="#c0c0c0" />
<rect x="774.5" y="442" width="2" height="28" fill="#c0c0c0" />
<rect x="776.5" y="442" width="2" height="28" fill="#c0c0c0" />
<rect x="778.5" y="442" width="2" height="28" fill="#c0c0c0" />
<rect x="780.5" y="442" width="2" height="28" fill="#c0c0c0" />
<rect x="782.5" y="442" width="2" height="27" fill="#c0c0c0" />
<rect x="784.5" y="442" width="2" height="27" fill="#c0c0c0" />
<rect x="786.5" y="442" width="2" height="26" fill="#c0c0c0" />
<rect x="788.5" y="442" width="2" height="25" fill="#c0c0c0" />
<rect x="790.5" y="442" width="2" height="24" fill="#c0c0c0" />
<rect x="792.5" y="442" width="2" height="23" fill="#c0c0c0" />
<rect x="794.5" y="442" width="2" height="22" fill="#c0c0c0" />
<rect x="796.5" y="442" width="2" height="21" fill="#c0c0c0" />
<rect x="798.5" y="442" width="2" height="21" fill="#c0c0c0" />
<rect x="800.5" y="442" width="2" height="20" fill="#c0c0c0" />
<rect x="802.5" y="442" width="2" height="19" fill="#c0c0c0" />
<rect x="804.5" y="442" width="2" height="18" fill="#c0c0c0" />
<rect x="806.5" y="442" width="2" height="16" fill="#c0c0c0" />
<rect x="808.5" y="442" width="2" height="15" fill="#c0c0c0" />
<rect x="810.5" y="442" width="2" height="14" fill="#c0c0c0" />
<rect x="812.5" y="442" width="2" height="14" fill="#c0c0c0" />
<rect x="814.5" y="442" width="2" height="14" fill="#c0c0c0" />
<rect x="816.5" y="442" width="2" height="14" fill="#c0c0c0" />
<rect x="818.5" y="442" width="2" height="12" fill="#c0c0c0" />
<rect x="820.5" y="442" width="2" height="10" fill="#c0c0c0" />
<rect x="822.5" y="442" width="2" height="8" fill="#c0c0c0" />
<rect x="824.5" y="442" width="2" height="4" fill="#c0c0c0" />
<rect x="828.5" y="440" width="2" height="2" fill="#c0c0c0" />
<rect x="830.5" y="438" width="2" height="4" fill="#c0c0c0" />
<rect x="832.5" y="436" width="2" height="6" fill="#c0c0c0" />
<rect x="834.5" y="435" width="2" height="7" fill="#c0c0c0" />
<rect x="836.5" y="434" width="2" height="8" fill="#c0c0c0" />
<rect x="838.5" y="435" width="2" height="7" fill="#c0c0c0" />
<rect x="840.5" y="435" width="2" height="7" fill="#c0c0c0" />
<rect x="842.5" y="436" width="2" height="6" fill="#c0c0c0" />
<rect x="844.5" y="437" width="2" height="5" fill="#c0c0c0" />
<rect x="846.5" y="438" width="2" height="4" fill="#c0c0c0" />
<rect x="848.5" y="440" width="2" height="2" fill="#c0c0c0" />
<rect x="852.5" y="442" width="2" height="3" fill="#c0c0c0" />
<rect x="854.5" y="442" width="2" height="4" fill="#c0c0c0" />
<rect x="856.5" y="442" width="2" height="4" fill="#c0c0c0" />
<rect x="858.5" y="442" width="2" height="3" fill="#c0c0c0" />
<rect x="860.5" y="442" width="2" height="1" fill="#c0c0c0" />
<rect x="864.5" y="441" width="2" height="1" fill="#c0c0c0" />
<rect x="866.5" y="440" width="2" height="2" fill="#c0c0c0" />
<rect x="868.5" y="439" width="2" height="3" fill="#c0c0c0" />
<rect x="870.5" y="440" width="2" height="2" fill="#c0c0c0" />
<rect x="872.5" y="441" width="2" height="1" fill="#c0c0c0" />
<rect x="874.5" y="442" width="2" height="1" fill="#c0c0c0" />
<rect x="876.5" y="442" width="2" height="3" fill="#c0c0c0" />
<rect x="878.5" y="442" width="2" height="3" fill="#c0c0c0" />
<rect x="880.5" y="442" width="2" height="2" fill="#c0c0c0" />
<rect x="882.5" y="442" width="2" height="1" fill="#c0c0c0" />
<rect x="884.5" y="442" width="2" height="1" fill="#c0c0c0" />
<rect x="890.5" y="442" width="2" height="1" fill="#c0c0c0" />
<rect x="892.5" y="442" width="2" height="2" fill="#c0c0c0" />
<rect x="894.5" y="442" width="2" height="3" fill="#c0c0c0" />
<rect x="896.5" y="442" width="2" height="2" fill="#c0c0c0" />
<rect x="900.5" y="441" width="2" height="1" fill="#c0c0c0" />
<rect x="902.5" y="440" width="2" height="2" fill="#c0c0c0" />
<rect x="904.5" y="439" width="2" height="3" fill="#c0c0c0" />
<rect x="906.5" y="438" width="2" height="4" fill="#c0c0c0" />
<rect x="908.5" y="437" width="2" height="5" fill="#c0c0c0" />
<rect x="910.5" y="437" width="2" height="5" fill="#c0c0c0" />
<rect x="912.5" y="437" width="2" height="5" fill="#c0c0c0" />
<rect x="914.5" y="438" width="2" height="4" fill="#c0c0c0" />
<rect x="916.5" y="438" width="2" height="4" fill="#c0c0c0" />
<rect x="918.5" y="440" width="2" height="2" fill="#c0c0c0" />
<rect x="920.5" y="441" width="2" height="1" fill="#c0c0c0" />
<rect x="922.5" y="442" width="2" height="5" fill="#c0c0c0" />
<rect x="924.5" y="442" width="2" height="7" fill="#c0c0c0" />
<rect x="926.5" y="442" width="2" height="8" fill="#c0c0c0" />
</g>
<path d="M2.5 441v1M3.5 441v1M4.5 441v1M5.5 440v1M6.5 440v1M7.5 440v1M8.5 440v1M9.5 440v1M10.5 440v1M11.5 439v1M12.5 439v1M13.5 439v1M14.5 439v1M15.5 439v1M16.5 439v1M17.5 439v1M18.5 439v1M19.5 440v1M20.5 440v1M21.5 440v1M22.5 441v1M23.5 441v1M24.5 441v1M25.5 442v1M26.5 442v1M27.5 442v1M28.5 442v1M29.5 443v1M30.5 443v1M31.5 443v1M32.5 443v1M33.5 444v1M34.5 444v1M35.5 444v1M36.5 444v1M37.5 445v1M38.5 445v1M39.5 445v1M40.5 445v1M41.5 445v1M42.5 445v1M43.5 445v1M44.5 445v1M45.5 445v1M46.5 445v1M47.5 444v1M48.5 444v1M49.5 444v1M50.5 444v1M51.5 444v1M52.5 443v1M53.5 443v1M54.5 443v1M55.5 443v1M56.5 443v1M57.5 443v1M58.5 443v1M59.5 442v1M60.5 442v1M61.5 442v1M62.5 441v1M63.5 441v1M64.5 440v1M65.5 439v1M66.5 438v1M67.5 437v1M68.5 436v1M69.5 435v1M70.5 434v1M71.5 433v1M72.5 432v1M73.5 431v1M74.5 431v1M75.5 430v1M76.5 429v1M77.5 429v1M78.5 429v1M79.5 429v1M80.5 429v1M81.5 429v1M82.5 429v1M83.5 429v1M84.5 430v1M85.5 430v1M86.5 431v1M87.5 431v1M88.5 432v1M89.5 433v1M90.5 434v1M91.5 435v1M92.5 436v1M93.5 436v1M94.5 437v1M95.5 438v1M96.5 439v1M97.5 439v1M98.5 439v1M99.5 440v1M100.5 440v1M101.5 440v1M102.5 440v1M103.5 440v1M104.5 439v1M105.5 439v1M106.5 438v1M107.5 438v1M108.5 437v1M109.5 436v1M110.5 436v1M111.5 435v1M112.5 435v1M113.5 434v1M114.5 434v1M115.5 433v1M116.5 433v1M117.5 433v1M118.5 432v1M119.5 432v1M120.5 432v1M121.5 432v1M122.5 432v1M123.5 433v1M124.5 433v1M125.5 433v1M126.5 433v1M127.5 434v1M128.5 434v1M129.5 435v1M130.5 435v1M131.5 436v1M132.5 436v1M133.5 437v1M134.5 438v1M135.5 438v1M136.5 439v1M137.5 439v1M138.5 439v1M139.5 438v1M140.5 438v1M141.5 437v1M142.5 437v1M143.5 436v1M144.5 436v1M145.5 436v1M146.5 435v1M147.5 434v1M148.5 433v1M149.5 432v1M150.5 431v1M151.5 430v1M152.5 428v2M153.5 427v1M154.5 426v1M155.5 425v1M156.5 424v1M157.5 423v1M158.5 422v1M159.5 421v1M160.5 420v1M161.5 418v2M162.5 417v1M163.5 417v1M164.5 416v1M165.5 416v1M166.5 415v1M167.5 415v1M168.5 415v1M169.5 415v1M170.5 415v1M171.5 416v1M172.5 416v1M173.5 417v1M174.5 418v2M175.5 420v1M176.5 421v1M177.5 422v1M178.5 423v2M179.5 425v2M180.5 427v1M181.5 428v2M182.5 430v1M183.5 431v2M184.5 433v1M185.5 434v1M186.5 435v2M187.5 437v1M188.5 438v1M189.5 439v1M190.5 440v1M191.5 441v1M192.5 441v1M193.5 442v1M194.5 442v1M195.5 443v1M196.5 443v1M197.5 444v1M198.5 444v1M199.5 444v1M200.5 444v1M201.5 444v1M202.5 444v1M203.5 444v1M204.5 444v1M205.5 444v1M206.5 444v1M207.5 444v1M208.5 444v1M209.5 444v1M210.5 444v1M211.5 444v1M212.5 444v1M213.5 444v1M214.5 444v1M215.5 444v1M216.5 444v1M217.5 444v1M218.5 444v1M219.5 444v1M220.5 444v1M221.5 443v1M222.5 443v1M223.5 443v1M224.5 442v1M225.5 442v1M226.5 442v1M227.5 442v1M228.5 441v1M229.5 441v1M230.5 441v1M231.5 440v1M232.5 440v1M233.5 439v1M234.5 439v1M235.5 438v1M236.5 438v1M237.5 437v1M238.5 437v1M239.5 436v1M240.5 436v1M241.5 436v1M242.5 436v1M243.5 436v1M244.5 435v1M245.5 435v1M246.5 434v1M247.5 434v1M248.5 434v1M249.5 433v1M250.5 432v1M251.5 431v1M252.5 430v1M253.5 430v1M254.5 429v1M255.5 428v1M256.5 427v1M257.5 426v1M258.5 426v1M259.5 425v1M260.5 425v1M261.5 424v1M262.5 424v1M263.5 423v1M264.5 423v1M265.5 423v1M266.5 423v1M267.5 423v1M268.5 423v1M269.5 423v1M270.5 423v1M271.5 424v1M272.5 424v1M273.5 425v1M274.5 426v1M275.5 427v1M276.5 428v1M277.5 428v1M278.5 429v1M279.5 430v1M280.5 430v1M281.5 431v1M282.5 432v2M283.5 434v1M284.5 435v1M285.5 436v2M286.5 438v1M287.5 439v1M288.5 440v1M289.5 441v2M290.5 443v1M291.5 444v1M292.5 445v1M293.5 446v1M294.5 447v1M295.5 448v1M296.5 449v1M297.5 449v1M298.5 450v1M299.5 450v1M300.5 451v1M301.5 451v1M302.5 451v1M303.5 451v1M304.5 451v1M305.5 450v1M306.5 450v1M307.5 450v1M308.5 449v1M309.5 449v1M310.5 448v1M311.5 448v1M312.5 447v1M313.5 447v1M314.5 446v1M315.5 446v1M316.5 446v1M317.5 446v1M318.5 446v1M319.5 446v1M320.5 446v1M321.5 446v1M322.5 446v1M323.5 446v1M324.5 446v1M325.5 446v1M326.5 445v1M327.5 445v1M328.5 445v1M329.5 445v1M330.5 444v1M331.5 444v1M332.5 444v1M333.5 444v1M334.5 444v1M335.5 444v1M336.5 443v1M337.5 443v1M338.5 443v1M339.5 443v1M340.5 443v1M341.5 443v1M342.5 443v1M343.5 443v1M344.5 444v1M345.5 444v1M346.5 444v1M347.5 444v1M348.5 445v1M349.5 445v1M350.5 445v1M351.5 445v1M352.5 445v1M353.5 445v1M354.5 445v1M355.5 445v1M356.5 445v1M357.5 445v1M358.5 444v1M359.5 443v1M360.5 443v1M361.5 442v1M362.5 442v1M363.5 442v1M364.5 441v1M365.5 441v1M366.5 441v1M367.5 441v1M368.5 441v1M369.5 441v1M370.5 441v1M371.5 441v1M372.5 441v1M373.5 441v1M374.5 441v1M375.5 442v1M376.5 443v2M377.5 445v1M378.5 446v1M379.5 447v1M380.5 448v1M381.5 448v1M382.5 449v1M383.5 450v1M384.5 451v1M385.5 452v1M386.5 453v1M387.5 454v1M388.5 455v1M389.5 455v1M390.5 456v1M391.5 456v1M392.5 456v1M393.5 456v1M394.5 456v1M395.5 456v1M396.5 455v1M397.5 455v1M398.5 455v1M399.5 454v1M400.5 454v1M401.5 453v1M402.5 453v1M403.5 452v1M404.5 452v1M405.5 452v1M406.5 452v1M407.5 451v1M408.5 451v1M409.5 451v1M410.5 451v1M411.5 451v1M412.5 451v1M413.5 451v1M414.5 451v1M415.5 451v1M416.5 451v1M417.5 451v1M418.5 451v1M419.5 451v1M420.5 452v1M421.5 451v1M422.5 451v1M423.5 451v1M424.5 451v1M425.5 451v1M426.5 451v1M427.5 451v1M428.5 451v1M429.5 450v1M430.5 450v1M431.5 450v1M432.5 450v1M433.5 450v1M434.5 451v1M435.5 451v1M436.5 451v1M437.5 451v1M438.5 451v1M439.5 451v1M440.5 451v1M441.5 452v1M442.5 453v1M443.5 453v1M444.5 454v1M445.5 455v1M446.5 455v1M447.5 456v1M448.5 456v1M449.5 456v1M450.5 457v1M451.5 457v1M452.5 457v1M453.5 458v1M454.5 458v1M455.5 458v1M456.5 458v1M457.5 458v1M458.5 459v1M459.5 459v1M460.5 459v1M461.5 459v1M462.5 458v1M463.5 458v1M464.5 458v1M465.5 458v1M466.5 458v1M467.5 457v1M468.5 457v1M469.5 456v1M470.5 456v1M471.5 455v1M472.5 454v1M473.5 453v1M474.5 452v1M475.5 451v1M476.5 450v1M477.5 449v1M478.5 448v1M479.5 448v1M480.5 447v1M481.5 446v1M482.5 446v1M483.5 445v1M484.5 444v1M485.5 444v1M486.5 444v1M487.5 444v1M488.5 444v1M489.5 444v1M490.5 444v1M491.5 444v1M492.5 444v1M493.5 444v1M494.5 444v1M495.5 444v1M496.5 444v1M497.5 444v1M498.5 445v1M499.5 445v1M500.5 446v1M501.5 446v1M502.5 447v1M503.5 448v1M504.5 448v1M505.5 449v1M506.5 450v1M507.5 451v1M508.5 452v1M509.5 453v1M510.5 453v1M511.5 454v1M512.5 455v1M513.5 456v1M514.5 457v1M515.5 457v1M516.5 458v1M517.5 458v1M518.5 458v1M519.5 458v1M520.5 458v1M521.5 457v1M522.5 457v1M523.5 457v1M524.5 456v1M525.5 456v1M526.5 456v1M527.5 456v1M528.5 456v1M529.5 456v1M530.5 456v1M531.5 456v1M532.5 456v1M533.5 457v1M534.5 457v1M535.5 457v1M536.5 457v1M537.5 457v1M538.5 457v1M539.5 457v1M540.5 457v1M541.5 457v1M542.5 457v1M543.5 457v1M544.5 456v1M545.5 456v1M546.5 455v1M547.5 455v1M548.5 454v1M549.5 454v1M550.5 453v1M551.5 453v1M552.5 452v1M553.5 452v1M554.5 451v1M555.5 451v1M556.5 451v1M557.5 450v1M558.5 450v1M559.5 450v1M560.5 450v1M561.5 449v1M562.5 449v1M563.5 449v1M564.5 449v1M565.5 449v1M566.5 448v1M567.5 448v1M568.5 448v1M569.5 447v1M570.5 447v1M571.5 447v1M572.5 446v1M573.5 446v1M574.5 446v1M575.5 446v1M576.5 445v1M577.5 445v1M578.5 445v1M579.5 445v1M580.5 444v1M581.5 444v1M582.5 444v1M583.5 444v1M584.5 443v1M585.5 443v1M586.5 443v1M587.5 443v1M588.5 443v1M589.5 443v1M590.5 443v1M591.5 443v1M592.5 443v1M593.5 442v1M594.5 442v1M595.5 442v1M596.5 442v1M597.5 442v1M598.5 442v1M599.5 442v1M600.5 443v1M601.5 443v1M602.5 443v1M603.5 443v1M604.5 444v1M605.5 444v1M606.5 444v1M607.5 443v1M608.5 443v1M609.5 443v1M610.5 443v1M611.5 443v1M612.5 442v1M613.5 442v1M614.5 442v1M615.5 441v1M616.5 440v1M617.5 439v1M618.5 438v1M619.5 437v1M620.5 436v1M621.5 434v2M622.5 433v1M623.5 432v1M624.5 431v1M625.5 430v1M626.5 429v1M627.5 428v1M628.5 427v1M629.5 426v1M630.5 425v1M631.5 424v1M632.5 424v1M633.5 423v1M634.5 423v1M635.5 422v1M636.5 422v1M637.5 421v1M638.5 421v1M639.5 421v1M640.5 421v1M641.5 422v1M642.5 422v1M643.5 422v1M644.5 422v1M645.5 423v1M646.5 423v1M647.5 423v1M648.5 423v1M649.5 423v1M650.5 424v1M651.5 424v1M652.5 424v1M653.5 424v1M654.5 423v1M655.5 423v1M656.5 423v1M657.5 423v1M658.5 422v1M659.5 422v1M660.5 421v1M661.5 420v1M662.5 420v1M663.5 419v1M664.5 418v1M665.5 417v1M666.5 416v1M667.5 415v1M668.5 414v1M669.5 413v1M670.5 413v1M671.5 412v1M672.5 412v1M673.5 412v1M674.5 412v1M675.5 412v1M676.5 412v1M677.5 412v1M678.5 413v1M679.5 414v1M680.5 415v1M681.5 416v1M682.5 416v2M683.5 418v1M684.5 419v1M685.5 420v1M686.5 421v1M687.5 422v1M688.5 423v1M689.5 424v1M690.5 425v1M691.5 426v1M692.5 427v1M693.5 428v1M694.5 429v1M695.5 430v1M696.5 430v1M697.5 431v1M698.5 431v1M699.5 431v1M700.5 432v1M701.5 432v1M702.5 432v1M703.5 433v1M704.5 433v1M705.5 432v1M706.5 432v1M707.5 431v1M708.5 431v1M709.5 431v1M710.5 430v1M711.5 430v1M712.5 429v1M713.5 429v1M714.5 428v1M715.5 428v1M716.5 428v1M717.5 427v1M718.5 427v1M719.5 426v1M720.5 426v1M721.5 425v1M722.5 425v1M723.5 425v1M724.5 424v1M725.5 424v1M726.5 424v1M727.5 424v1M728.5 424v1M729.5 423v1M730.5 423v1M731.5 423v1M732.5 423v1M733.5 423v1M734.5 423v1M735.5 423v1M736.5 423v1M737.5 424v1M738.5 424v1M739.5 424v1M740.5 424v1M741.5 424v1M742.5 424v1M743.5 424v1M744.5 424v1M745.5 424v1M746.5 425v1M747.5 425v1M748.5 426v1M749.5 426v1M750.5 427v2M751.5 429v1M752.5 430v1M753.5 431v2M754.5 433v2M755.5 435v2M756.5 437v2M757.5 439v2M758.5 441v2M759.5 443v2M760.5 445v2M761.5 447v2M762.5 449v1M763.5 450v2M764.5 452v1M765.5 453v1M766.5 454v2M767.5 456v1M768.5 457v1M769.5 458v1M770.5 459v1M771.5 459v1M772.5 460v1M773.5 461v1M774.5 461v1M775.5 462v1M776.5 462v1M777.5 463v1M778.5 463v1M779.5 464v1M780.5 464v1M781.5 465v1M782.5 466v1M783.5 466v1M784.5 466v1M785.5 467v1M786.5 467v1M787.5 468v1M788.5 468v1M789.5 468v1M790.5 468v1M791.5 468v1M792.5 468v1M793.5 468v1M794.5 467v1M795.5 467v1M796.5 466v1M797.5 466v1M798.5 466v1M799.5 465v1M800.5 465v1M801.5 464v1M802.5 464v1M803.5 463v1M804.5 463v1M805.5 462v1M806.5 462v1M807.5 461v1M808.5 460v1M809.5 460v1M810.5 459v1M811.5 459v1M812.5 458v1M813.5 458v1M814.5 457v1M815.5 457v1M816.5 457v1M817.5 456v1M818.5 456v1M819.5 455v1M820.5 455v1M821.5 455v1M822.5 454v1M823.5 454v1M824.5 453v1M825.5 453v1M826.5 452v1M827.5 451v1M828.5 450v1M829.5 449v1M830.5 448v1M831.5 447v1M832.5 446v1M833.5 445v1M834.5 444v1M835.5 443v1M836.5 442v1M837.5 441v1M838.5 440v1M839.5 439v1M840.5 438v1M841.5 437v1M842.5 437v1M843.5 437v1M844.5 436v1M845.5 436v1M846.5 436v1M847.5 436v1M848.5 436v1M849.5 436v1M850.5 436v1M851.5 436v1M852.5 436v1M853.5 437v1M854.5 437v1M855.5 438v1M856.5 438v1M857.5 439v1M858.5 439v1M859.5 440v1M860.5 440v1M861.5 441v1M862.5 441v1M863.5 441v1M864.5 441v1M865.5 442v1M866.5 442v1M867.5 442v1M868.5 442v1M869.5 442v1M870.5 442v1M871.5 442v1M872.5 441v1M873.5 441v1M874.5 441v1M875.5 441v1M876.5 441v1M877.5 441v1M878.5 441v1M879.5 441v1M880.5 441v1M881.5 441v1M882.5 442v1M883.5 442v1M884.5 442v1M885.5 442v1M886.5 442v1M887.5 442v1M888.5 442v1M889.5 442v1M890.5 442v1M891.5 442v1M892.5 443v1M893.5 443v1M894.5 443v1M895.5 443v1M896.5 443v1M897.5 442v1M898.5 442v1M899.5 442v1M900.5 442v1M901.5 442v1M902.5 442v1M903.5 442v1M904.5 442v1M905.5 441v1M906.5 441v1M907.5 441v1M908.5 440v1M909.5 440v1M910.5 440v1M911.5 439v1M912.5 439v1M913.5 439v1M914.5 438v1M915.5 438v1M916.5 438v1M917.5 438v1M918.5 438v1M919.5 438v1M920.5 438v1M921.5 438v1M922.5 438v1M923.5 438v1M924.5 438v1M925.5 439v1M926.5 440v1" fill="none" stroke="#ff0000" stroke-width="1" shape-rendering="crispEdges"/>
<g shape-rendering="crispEdges">
<line x1="3" y1="497.5" x2="1165" y2="497.5" stroke="#c0c0c0" stroke-width="1" stroke-dasharray="3 3"/>
<line x1="3" y1="525.5" x2="1165" y2="525.5" stroke="#c0c0c0" stroke-width="1" stroke-dasharray="3 3"/>
</g>
<path d="M2.5 506v1M3.5 506v1M4.5 506v1M5.5 506v1M6.5 506v2M7.5 508v3M8.5 511v2M9.5 513v1M10.5 512v1M11.5 511v1M12.5 511v1M13.5 511v1M14.5 512v1M15.5 512v1M16.5 512v1M17.5 512v1M18.5 512v1M19.5 512v1M20.5 511v1M21.5 511v2M22.5 513v2M23.5 515v1M24.5 514v1M25.5 514v1M26.5 514v1M27.5 514v1M28.5 514v1M29.5 515v1M30.5 514v1M31.5 513v1M32.5 514v1M33.5 515v1M34.5 516v1M35.5 516v2M36.5 515v1M37.5 514v1M38.5 512v2M39.5 511v1M40.5 510v1M41.5 509v1M42.5 508v1M43.5 508v1M44.5 508v1M45.5 508v1M46.5 509v1M47.5 510v1M48.5 511v1M49.5 512v1M50.5 513v1M51.5 514v1M52.5 515v1M53.5 514v2M54.5 511v3M55.5 508v3M56.5 505v3M57.5 503v2M58.5 501v2M59.5 501v1M60.5 500v1M61.5 500v1M62.5 500v1M63.5 501v1M64.5 501v1M65.5 499v2M66.5 498v1M67.5 497v1M68.5 497v1M69.5 496v1M70.5 496v1M71.5 496v1M72.5 497v1M73.5 497v2M74.5 499v2M75.5 501v2M76.5 503v3M77.5 506v3M78.5 509v3M79.5 512v2M80.5 514v1M81.5 514v1M82.5 515v1M83.5 516v1M84.5 515v1M85.5 515v1M86.5 515v1M87.5 516v1M88.5 516v1M89.5 516v2M90.5 514v2M91.5 513v1M92.5 511v2M93.5 510v1M94.5 510v1M95.5 509v1M96.5 509v1M97.5 508v1M98.5 507v1M99.5 506v1M100.5 503v3M101.5 500v3M102.5 498v2M103.5 498v3M104.5 501v2M105.5 503v1M106.5 503v1M107.5 502v1M108.5 502v1M109.5 502v1M110.5 503v1M111.5 504v1M112.5 504v1M113.5 505v1M114.5 505v1M115.5 506v2M116.5 508v3M117.5 511v1M118.5 511v1M119.5 511v1M120.5 511v1M121.5 510v1M122.5 511v1M123.5 512v1M124.5 513v1M125.5 514v2M126.5 516v1M127.5 515v2M128.5 513v2M129.5 511v2M130.5 511v1M131.5 511v1M132.5 510v1M133.5 510v1M134.5 509v1M135.5 508v2M136.5 506v2M137.5 504v2M138.5 501v3M139.5 500v1M140.5 499v1M141.5 498v1M142.5 497v1M143.5 496v1M144.5 496v1M145.5 496v1M146.5 497v1M147.5 498v1M148.5 499v1M149.5 497v2M150.5 496v1M151.5 495v1M152.5 494v1M153.5 493v1M154.5 492v1M155.5 491v1M156.5 491v1M157.5 491v1M158.5 491v1M159.5 492v1M160.5 493v1M161.5 494v1M162.5 495v3M163.5 498v5M164.5 503v3M165.5 506v1M166.5 507v1M167.5 507v1M168.5 507v1M169.5 507v1M170.5 507v1M171.5 508v2M172.5 510v2M173.5 512v2M174.5 514v2M175.5 516v1M176.5 517v1M177.5 518v1M178.5 518v1M179.5 518v1M180.5 518v1M181.5 516v2M182.5 515v1M183.5 515v1M184.5 516v2M185.5 518v1M186.5 518v1M187.5 519v1M188.5 518v2M189.5 515v3M190.5 512v3M191.5 510v2M192.5 509v1M193.5 508v1M194.5 508v1M195.5 508v1M196.5 509v1M197.5 510v1M198.5 511v1M199.5 512v1M200.5 513v1M201.5 514v1M202.5 514v1M203.5 513v1M204.5 513v1M205.5 512v1M206.5 513v1M207.5 513v1M208.5 514v1M209.5 513v1M210.5 513v1M211.5 513v1M212.5 513v1M213.5 512v1M214.5 512v1M215.5 511v1M216.5 512v1M217.5 512v2M218.5 508v4M219.5 505v3M220.5 503v2M221.5 501v2M222.5 502v1M223.5 502v3M224.5 505v4M225.5 509v3M226.5 511v1M227.5 511v1M228.5 511v1M229.5 509v2M230.5 507v2M231.5 506v1M232.5 505v1M233.5 505v1M234.5 506v1M235.5 506v1M236.5 505v1M237.5 505v1M238.5 504v1M239.5 503v1M240.5 503v1M241.5 502v1M242.5 502v1M243.5 502v1M244.5 501v1M245.5 501v1M246.5 502v1M247.5 500v3M248.5 496v4M249.5 494v2M250.5 493v1M251.5 493v1M252.5 494v1M253.5 495v2M254.5 497v1M255.5 498v1M256.5 497v1M257.5 497v1M258.5 496v1M259.5 495v2M260.5 497v3M261.5 500v3M262.5 503v3M263.5 506v1M264.5 506v1M265.5 506v1M266.5 507v1M267.5 507v1M268.5 508v1M269.5 509v2M270.5 511v1M271.5 512v1M272.5 512v1M273.5 512v1M274.5 512v1M275.5 513v1M276.5 513v1M277.5 513v1M278.5 511v2M279.5 510v2M280.5 512v2M281.5 514v2M282.5 516v3M283.5 519v3M284.5 522v1M285.5 523v1M286.5 524v1M287.5 524v1M288.5 522v2M289.5 520v2M290.5 519v1M291.5 518v1M292.5 517v1M293.5 517v1M294.5 516v1M295.5 516v1M296.5 515v1M297.5 514v1M298.5 513v1M299.5 512v1M300.5 512v1M301.5 511v1M302.5 510v1M303.5 509v1M304.5 507v2M305.5 506v2M306.5 508v2M307.5 510v2M308.5 512v1M309.5 513v1M310.5 514v1M311.5 515v1M312.5 514v1M313.5 513v1M314.5 513v1M315.5 514v1M316.5 515v1M317.5 516v1M318.5 517v1M319.5 516v2M320.5 514v2M321.5 512v2M322.5 511v1M323.5 510v1M324.5 510v1M325.5 509v1M326.5 509v1M327.5 508v1M328.5 507v1M329.5 508v1M330.5 509v2M331.5 511v1M332.5 512v2M333.5 514v1M334.5 515v1M335.5 515v1M336.5 514v1M337.5 512v2M338.5 511v1M339.5 512v2M340.5 514v1M341.5 515v1M342.5 515v1M343.5 515v1M344.5 514v1M345.5 513v2M346.5 512v1M347.5 511v1M348.5 511v1M349.5 512v1M350.5 512v1M351.5 512v1M352.5 512v1M353.5 512v1M354.5 510v2M355.5 508v2M356.5 505v3M357.5 504v1M358.5 504v1M359.5 503v1M360.5 503v2M361.5 505v1M362.5 506v1M363.5 507v1M364.5 508v1M365.5 509v3M366.5 512v3M367.5 515v3M368.5 518v2M369.5 520v1M370.5 521v2M371.5 523v1M372.5 523v2M373.5 522v2M374.5 524v2M375.5 526v1M376.5 527v1M377.5 528v1M378.5 527v2M379.5 525v2M380.5 521v4M381.5 519v2M382.5 518v1M383.5 517v1M384.5 517v1M385.5 517v1M386.5 518v1M387.5 518v2M388.5 517v1M389.5 516v1M390.5 515v1M391.5 514v1M392.5 515v1M393.5 516v1M394.5 517v1M395.5 517v1M396.5 515v2M397.5 514v1M398.5 513v1M399.5 512v1M400.5 511v1M401.5 511v1M402.5 512v1M403.5 513v2M404.5 515v1M405.5 515v1M406.5 515v1M407.5 515v1M408.5 515v1M409.5 516v2M410.5 518v1M411.5 519v2M412.5 521v1M413.5 522v1M414.5 523v1M415.5 520v3M416.5 516v4M417.5 514v2M418.5 514v1M419.5 513v1M420.5 513v1M421.5 512v1M422.5 511v1M423.5 510v1M424.5 510v1M425.5 509v1M426.5 509v2M427.5 511v4M428.5 515v4M429.5 519v1M430.5 520v1M431.5 520v1M432.5 521v1M433.5 521v1M434.5 521v1M435.5 519v2M436.5 518v1M437.5 517v2M438.5 519v2M439.5 521v1M440.5 521v1M441.5 521v1M442.5 520v1M443.5 519v1M444.5 519v1M445.5 519v1M446.5 519v1M447.5 519v1M448.5 520v1M449.5 520v1M450.5 521v1M451.5 520v1M452.5 520v1M453.5 521v1M454.5 522v1M455.5 523v1M456.5 522v1M457.5 521v1M458.5 521v1M459.5 521v2M460.5 519v2M461.5 516v3M462.5 513v3M463.5 512v1M464.5 511v1M465.5 510v1M466.5 510v1M467.5 509v1M468.5 509v1M469.5 509v1M470.5 507v2M471.5 506v1M472.5 505v1M473.5 506v2M474.5 508v3M475.5 511v1M476.5 511v1M477.5 510v1M478.5 510v1M479.5 510v1M480.5 511v1M481.5 511v1M482.5 511v1M483.5 512v2M484.5 514v1M485.5 515v1M486.5 513v2M487.5 512v1M488.5 513v1M489.5 514v1M490.5 515v1M491.5 515v1M492.5 514v1M493.5 514v1M494.5 514v1M495.5 514v1M496.5 514v2M497.5 515v2M498.5 514v1M499.5 513v4M500.5 517v5M501.5 522v3M502.5 524v1M503.5 525v1M504.5 525v1M505.5 525v1M506.5 525v1M507.5 525v1M508.5 526v1M509.5 526v2M510.5 523v3M511.5 520v3M512.5 515v5M513.5 512v3M514.5 512v1M515.5 512v1M516.5 513v1M517.5 512v1M518.5 511v1M519.5 511v1M520.5 511v1M521.5 511v2M522.5 513v3M523.5 516v3M524.5 519v1M525.5 520v2M526.5 522v1M527.5 523v1M528.5 522v1M529.5 522v1M530.5 521v1M531.5 521v1M532.5 521v1M533.5 520v2M534.5 517v3M535.5 514v3M536.5 512v2M537.5 511v1M538.5 510v1M539.5 510v1M540.5 510v1M541.5 510v1M542.5 511v1M543.5 512v1M544.5 512v2M545.5 514v1M546.5 515v2M547.5 517v1M548.5 516v1M549.5 515v1M550.5 515v1M551.5 516v1M552.5 516v1M553.5 516v2M554.5 514v2M555.5 512v2M556.5 511v1M557.5 510v1M558.5 510v1M559.5 511v1M560.5 512v1M561.5 512v1M562.5 513v1M563.5 514v1M564.5 513v1M565.5 513v1M566.5 512v1M567.5 512v1M568.5 511v1M569.5 508v3M570.5 505v3M571.5 504v2M572.5 506v4M573.5 510v2M574.5 512v1M575.5 513v1M576.5 514v1M577.5 514v1M578.5 512v2M579.5 511v1M580.5 510v1M581.5 509v1M582.5 509v1M583.5 509v1M584.5 510v2M585.5 512v1M586.5 512v1M587.5 512v1M588.5 512v1M589.5 512v1M590.5 513v1M591.5 513v2M592.5 512v1M593.5 510v2M594.5 509v1M595.5 509v2M596.5 511v3M597.5 514v2M598.5 516v1M599.5 517v1M600.5 516v1M601.5 515v1M602.5 514v1M603.5 514v1M604.5 513v1M605.5 511v2M606.5 510v1M607.5 508v2M608.5 506v2M609.5 505v1M610.5 503v2M611.5 502v1M612.5 502v1M613.5 501v1M614.5 501v1M615.5 500v1M616.5 500v1M617.5 499v1M618.5 498v1M619.5 498v1M620.5 497v1M621.5 497v1M622.5 497v1M623.5 497v1M624.5 498v1M625.5 499v1M626.5 498v1M627.5 497v1M628.5 498v1M629.5 499v2M630.5 501v1M631.5 499v2M632.5 498v2M633.5 500v1M634.5 501v2M635.5 503v1M636.5 504v1M637.5 505v2M638.5 507v1M639.5 508v1M640.5 508v1M641.5 508v1M642.5 507v1M643.5 505v2M644.5 503v2M645.5 500v3M646.5 499v1M647.5 498v1M648.5 498v1M649.5 499v2M650.5 501v1M651.5 501v1M652.5 500v1M653.5 499v1M654.5 498v1M655.5 497v1M656.5 496v1M657.5 495v1M658.5 494v1M659.5 493v1M660.5 493v1M661.5 494v1M662.5 495v1M663.5 495v1M664.5 496v1M665.5 496v1M666.5 497v2M667.5 499v1M668.5 500v1M669.5 501v1M670.5 502v1M671.5 503v1M672.5 504v1M673.5 504v1M674.5 505v1M675.5 506v1M676.5 507v1M677.5 507v1M678.5 508v1M679.5 509v1M680.5 510v1M681.5 510v1M682.5 511v1M683.5 512v1M684.5 511v1M685.5 510v1M686.5 510v1M687.5 509v1M688.5 508v1M689.5 508v1M690.5 508v1M691.5 509v1M692.5 509v1M693.5 508v1M694.5 506v2M695.5 505v1M696.5 504v1M697.5 503v1M698.5 502v1M699.5 502v1M700.5 502v1M701.5 503v2M702.5 505v4M703.5 508v3M704.5 503v5M705.5 501v2M706.5 499v2M707.5 498v1M708.5 498v1M709.5 499v1M710.5 500v2M711.5 502v1M712.5 503v2M713.5 505v1M714.5 503v2M715.5 502v1M716.5 502v1M717.5 503v1M718.5 503v1M719.5 503v1M720.5 502v1M721.5 501v1M722.5 501v1M723.5 501v1M724.5 502v1M725.5 501v2M726.5 500v1M727.5 499v1M728.5 498v1M729.5 498v2M730.5 500v2M731.5 502v2M732.5 504v1M733.5 504v1M734.5 505v1M735.5 506v1M736.5 507v1M737.5 507v1M738.5 506v1M739.5 504v2M740.5 503v1M741.5 503v1M742.5 502v1M743.5 502v1M744.5 503v1M745.5 504v2M746.5 506v3M747.5 509v3M748.5 512v3M749.5 515v4M750.5 519v3M751.5 522v2M752.5 524v2M753.5 526v1M754.5 527v1M755.5 526v2M756.5 524v2M757.5 521v3M758.5 520v1M759.5 519v1M760.5 518v1M761.5 517v2M762.5 519v1M763.5 519v1M764.5 519v1M765.5 518v1M766.5 519v1M767.5 519v1M768.5 520v1M769.5 521v1M770.5 521v1M771.5 522v1M772.5 522v1M773.5 523v1M774.5 524v1M775.5 521v3M776.5 517v4M777.5 515v3M778.5 518v2M779.5 520v1M780.5 520v1M781.5 519v1M782.5 518v1M783.5 519v1M784.5 519v1M785.5 519v1M786.5 518v1M787.5 518v1M788.5 517v1M789.5 517v1M790.5 517v1M791.5 517v1M792.5 517v1M793.5 517v1M794.5 517v1M795.5 516v1M796.5 515v1M797.5 514v1M798.5 515v1M799.5 516v1M800.5 517v1M801.5 516v1M802.5 515v1M803.5 514v1M804.5 515v1M805.5 515v1M806.5 515v1M807.5 514v1M808.5 513v1M809.5 513v1M810.5 514v1M811.5 515v1M812.5 516v1M813.5 517v1M814.5 518v1M815.5 518v1M816.5 516v2M817.5 515v1M818.5 514v1M819.5 513v1M820.5 511v2M821.5 510v1M822.5 508v2M823.5 507v1M824.5 506v1M825.5 505v1M826.5 504v1M827.5 504v1M828.5 504v1M829.5 505v1M830.5 506v2M831.5 508v1M832.5 508v1M833.5 507v1M834.5 507v1M835.5 506v1M836.5 505v1M837.5 504v2M838.5 506v1M839.5 507v1M840.5 508v1M841.5 509v1M842.5 510v1M843.5 510v1M844.5 510v1M845.5 509v1M846.5 509v1M847.5 510v2M848.5 512v2M849.5 514v2M850.5 516v1M851.5 517v1M852.5 518v1M853.5 517v1M854.5 517v1M855.5 517v1M856.5 516v1M857.5 515v2M858.5 513v2M859.5 510v3M860.5 508v2M861.5 507v1M862.5 508v1M863.5 509v1M864.5 509v1M865.5 509v1M866.5 509v1M867.5 509v1M868.5 508v1M869.5 508v1M870.5 507v2M871.5 509v2M872.5 511v2M873.5 513v1M874.5 514v1M875.5 515v1M876.5 515v1M877.5 515v1M878.5 514v1M879.5 514v1M880.5 513v1M881.5 512v1M882.5 510v2M883.5 509v1M884.5 509v2M885.5 511v1M886.5 512v1M887.5 512v1M888.5 513v1M889.5 513v1M890.5 512v1M891.5 511v1M892.5 510v2M893.5 512v4M894.5 516v2M895.5 515v3M896.5 511v4M897.5 509v2M898.5 509v1M899.5 509v1M900.5 509v1M901.5 509v1M902.5 509v1M903.5 509v1M904.5 509v1M905.5 508v1M906.5 508v1M907.5 507v1M908.5 506v1M909.5 505v1M910.5 506v1M911.5 507v1M912.5 508v1M913.5 509v1M914.5 510v1M915.5 511v1M916.5 511v1M917.5 510v1M918.5 509v1M919.5 508v3M920.5 511v4M921.5 515v2M922.5 517v2M923.5 519v1M924.5 519v1M925.5 519v1M926.5 519v1" fill="none" stroke="#1e90ff" stroke-width="1" shape-rendering="crispEdges"/>
<g shape-rendering="crispEdges" fill="#000">
<rect x="2" y="23" width="1164" height="1" fill="#000" />
<rect x="2" y="23" width="1" height="380" fill="#000" />
<rect x="2" y="402" width="1164" height="1" fill="#000" />
<rect x="1165" y="23" width="1" height="525" fill="#000" />
<rect x="2" y="404" width="1164" height="1" fill="#000" />
<rect x="2" y="404" width="1" height="70" fill="#000" />
<rect x="2" y="473" width="1164" height="1" fill="#000" />
<rect x="2" y="475" width="1164" height="1" fill="#000" />
<rect x="2" y="475" width="1" height="73" fill="#000" />
<rect x="2" y="547" width="1164" height="1" fill="#000" />
<rect x="1166" y="36" width="2" height="1" fill="#000" />
<rect x="1166" y="69" width="2" height="1" fill="#000" />
<rect x="1166" y="102" width="2" height="1" fill="#000" />
<rect x="1166" y="135" width="2" height="1" fill="#000" />
<rect x="1166" y="168" width="2" height="1" fill="#000" />
<rect x="1166" y="201" width="2" height="1" fill="#000" />
<rect x="1166" y="234" width="2" height="1" fill="#000" />
<rect x="1166" y="267" width="2" height="1" fill="#000" />
<rect x="1166" y="300" width="2" height="1" fill="#000" />
<rect x="1166" y="333" width="2" height="1" fill="#000" />
<rect x="1166" y="366" width="2" height="1" fill="#000" />
<rect x="1166" y="399" width="2" height="1" fill="#000" />
<rect x="1166" y="406" width="1" height="1" fill="#000" />
<rect x="1166" y="442" width="1" height="1" fill="#000" />
<rect x="1166" y="472" width="1" height="1" fill="#000" />
<rect x="1166" y="477" width="1" height="1" fill="#000" />
<rect x="1166" y="497" width="1" height="1" fill="#000" />
<rect x="1166" y="525" width="1" height="1" fill="#000" />
<rect x="1166" y="546" width="1" height="1" fill="#000" />
<rect x="3" y="548" width="1" height="3" fill="#000" />
<rect x="67" y="548" width="1" height="3" fill="#000" />
<rect x="131" y="548" width="1" height="3" fill="#000" />
<rect x="195" y="548" width="1" height="3" fill="#000" />
<rect x="259" y="548" width="1" height="3" fill="#000" />
<rect x="323" y="548" width="1" height="3" fill="#000" />
<rect x="387" y="548" width="1" height="3" fill="#000" />
<rect x="451" y="548" width="1" height="3" fill="#000" />
<rect x="515" y="548" width="1" height="3" fill="#000" />
<rect x="579" y="548" width="1" height="3" fill="#000" />
<rect x="643" y="548" width="1" height="3" fill="#000" />
<rect x="707" y="548" width="1" height="3" fill="#000" />
<rect x="771" y="548" width="1" height="3" fill="#000" />
<rect x="835" y="548" width="1" height="3" fill="#000" />
<rect x="899" y="548" width="1" height="3" fill="#000" />
</g>
<text x="1171" y="40" font-size="10" fill="#000" stroke="#000" stroke-width="0.1" textLength="33" lengthAdjust="spacingAndGlyphs" >0.93775</text>
<text x="1171" y="73" font-size="10" fill="#000" stroke="#000" stroke-width="0.1" textLength="33" lengthAdjust="spacingAndGlyphs" >0.93505</text>
<text x="1171" y="106" font-size="10" fill="#000" stroke="#000" stroke-width="0.1" textLength="33" lengthAdjust="spacingAndGlyphs" >0.93235</text>
<text x="1171" y="139" font-size="10" fill="#000" stroke="#000" stroke-width="0.1" textLength="33" lengthAdjust="spacingAndGlyphs" >0.92965</text>
<text x="1171" y="172" font-size="10" fill="#000" stroke="#000" stroke-width="0.1" textLength="33" lengthAdjust="spacingAndGlyphs" >0.92695</text>
<text x="1171" y="238" font-size="10" fill="#000" stroke="#000" stroke-width="0.1" textLength="33" lengthAdjust="spacingAndGlyphs" >0.92155</text>
<text x="1171" y="271" font-size="10" fill="#000" stroke="#000" stroke-width="0.1" textLength="33" lengthAdjust="spacingAndGlyphs" >0.91885</text>
<text x="1171" y="304" font-size="10" fill="#000" stroke="#000" stroke-width="0.1" textLength="33" lengthAdjust="spacingAndGlyphs" >0.91620</text>
<text x="1171" y="337" font-size="10" fill="#000" stroke="#000" stroke-width="0.1" textLength="33" lengthAdjust="spacingAndGlyphs" >0.91350</text>
<text x="1171" y="370" font-size="10" fill="#000" stroke="#000" stroke-width="0.1" textLength="33" lengthAdjust="spacingAndGlyphs" >0.91080</text>
<text x="1171" y="403" font-size="10" fill="#000" stroke="#000" stroke-width="0.1" textLength="33" lengthAdjust="spacingAndGlyphs" >0.90810</text>
<g shape-rendering="crispEdges">
<rect x="1167" y="124" width="41" height="11" fill="#ff0000" />
<rect x="1167" y="198" width="41" height="11" fill="#ff0000" />
<rect x="1167" y="272" width="41" height="11" fill="#00ff00" />
<rect x="1167" y="345" width="41" height="11" fill="#0000ff" />
<rect x="1167" y="259" width="41" height="11" fill="#000" />
</g>
<text x="1171" y="133" font-size="10" fill="#fff" stroke="#fff" stroke-width="0.1" textLength="33" lengthAdjust="spacingAndGlyphs" >0.93006</text>
<text x="1171" y="207" font-size="10" fill="#fff" stroke="#fff" stroke-width="0.1" textLength="33" lengthAdjust="spacingAndGlyphs" >0.92403</text>
<text x="1171" y="281" font-size="10" fill="#fff" stroke="#fff" stroke-width="0.1" textLength="33" lengthAdjust="spacingAndGlyphs" >0.91800</text>
<text x="1171" y="354" font-size="10" fill="#fff" stroke="#fff" stroke-width="0.1" textLength="33" lengthAdjust="spacingAndGlyphs" >0.91206</text>
<text x="1171" y="268" font-size="10" fill="#fff" stroke="#fff" stroke-width="0.1" textLength="33" lengthAdjust="spacingAndGlyphs" >0.91913</text>
<text x="1169.5" y="415" font-size="10" fill="#000" stroke="#000" stroke-width="0.1" textLength="36.7" lengthAdjust="spacingAndGlyphs" >0.003811</text>
<text x="1169.5" y="446" font-size="10" fill="#000" stroke="#000" stroke-width="0.1" textLength="18" lengthAdjust="spacingAndGlyphs" >0.00</text>
<text x="1169.5" y="470" font-size="10" fill="#000" stroke="#000" stroke-width="0.1" textLength="41" lengthAdjust="spacingAndGlyphs" >-0.003115</text>
<text x="1169.5" y="486" font-size="10" fill="#000" stroke="#000" stroke-width="0.1" textLength="14.3" lengthAdjust="spacingAndGlyphs" >100</text>
<text x="1168.5" y="501" font-size="10" fill="#000" stroke="#000" stroke-width="0.1" textLength="10" lengthAdjust="spacingAndGlyphs" >70</text>
<text x="1168.5" y="529" font-size="10" fill="#000" stroke="#000" stroke-width="0.1" textLength="10" lengthAdjust="spacingAndGlyphs" >30</text>
<text x="1169" y="544" font-size="10" fill="#000" stroke="#000" stroke-width="0.1" textLength="5" lengthAdjust="spacingAndGlyphs" >0</text>
<text x="7.5" y="417" font-size="10" fill="#000" stroke="#000" stroke-width="0.1" textLength="65" lengthAdjust="spacingAndGlyphs" >MACD(12,26,9)</text>
<text x="76.6" y="417" font-size="10" fill="#000" stroke="#000" stroke-width="0.1" textLength="39.6" lengthAdjust="spacingAndGlyphs" >-0.000696</text>
<text x="120.8" y="417" font-size="10" fill="#000" stroke="#000" stroke-width="0.1" textLength="37.2" lengthAdjust="spacingAndGlyphs" >0.000186</text>
<text x="7.5" y="488" font-size="10" fill="#000" stroke="#000" stroke-width="0.1" textLength="67" lengthAdjust="spacingAndGlyphs" >RSI(14) 38.7671</text>
<text x="2.5" y="560" font-size="10" fill="#000" stroke="#000" stroke-width="0.1" textLength="46.5" lengthAdjust="spacingAndGlyphs" >1 Sep 2021</text>
<text x="66.5" y="560" font-size="10" fill="#000" stroke="#000" stroke-width="0.1" textLength="50" lengthAdjust="spacingAndGlyphs" >8 Sep 08:00</text>
<text x="130.5" y="560" font-size="10" fill="#000" stroke="#000" stroke-width="0.1" textLength="55.5" lengthAdjust="spacingAndGlyphs" >15 Sep 16:00</text>
<text x="194.5" y="560" font-size="10" fill="#000" stroke="#000" stroke-width="0.1" textLength="55.5" lengthAdjust="spacingAndGlyphs" >23 Sep 00:00</text>
<text x="258.5" y="560" font-size="10" fill="#000" stroke="#000" stroke-width="0.1" textLength="55.5" lengthAdjust="spacingAndGlyphs" >30 Sep 08:00</text>
<text x="322.5" y="560" font-size="10" fill="#000" stroke="#000" stroke-width="0.1" textLength="50" lengthAdjust="spacingAndGlyphs" >7 Oct 16:00</text>
<text x="386.5" y="560" font-size="10" fill="#000" stroke="#000" stroke-width="0.1" textLength="55.5" lengthAdjust="spacingAndGlyphs" >15 Oct 00:00</text>
<text x="450.5" y="560" font-size="10" fill="#000" stroke="#000" stroke-width="0.1" textLength="55.5" lengthAdjust="spacingAndGlyphs" >22 Oct 08:00</text>
<text x="514.5" y="560" font-size="10" fill="#000" stroke="#000" stroke-width="0.1" textLength="55.5" lengthAdjust="spacingAndGlyphs" >29 Oct 16:00</text>
<text x="578.5" y="560" font-size="10" fill="#000" stroke="#000" stroke-width="0.1" textLength="50" lengthAdjust="spacingAndGlyphs" >8 Nov 00:00</text>
<text x="642.5" y="560" font-size="10" fill="#000" stroke="#000" stroke-width="0.1" textLength="55.5" lengthAdjust="spacingAndGlyphs" >15 Nov 08:00</text>
<text x="706.5" y="560" font-size="10" fill="#000" stroke="#000" stroke-width="0.1" textLength="55.5" lengthAdjust="spacingAndGlyphs" >22 Nov 16:00</text>
<text x="770.5" y="560" font-size="10" fill="#000" stroke="#000" stroke-width="0.1" textLength="55.5" lengthAdjust="spacingAndGlyphs" >30 Nov 00:00</text>
<text x="834.5" y="560" font-size="10" fill="#000" stroke="#000" stroke-width="0.1" textLength="50" lengthAdjust="spacingAndGlyphs" >7 Dec 08:00</text>
<text x="898.5" y="560" font-size="10" fill="#000" stroke="#000" stroke-width="0.1" textLength="55.5" lengthAdjust="spacingAndGlyphs" >14 Dec 16:00</text>
<path d="M6 34 L13 34 L9.5 30 Z" fill="#000"/>
<text x="18.4" y="35" font-size="10" fill="#000" stroke="#000" stroke-width="0.1" textLength="57.6" lengthAdjust="spacingAndGlyphs" >USDCHF-,H4</text>
<text x="81.9" y="35" font-size="10" fill="#000" stroke="#000" stroke-width="0.1" textLength="32.3" lengthAdjust="spacingAndGlyphs" >0.91890</text>
<text x="117.8" y="35" font-size="10" fill="#000" stroke="#000" stroke-width="0.1" textLength="32.3" lengthAdjust="spacingAndGlyphs" >0.91921</text>
<text x="153.8" y="35" font-size="10" fill="#000" stroke="#000" stroke-width="0.1" textLength="32.3" lengthAdjust="spacingAndGlyphs" >0.91885</text>
<text x="189.8" y="35" font-size="10" fill="#000" stroke="#000" stroke-width="0.1" textLength="32.8" lengthAdjust="spacingAndGlyphs" >0.91913</text>
<g shape-rendering="crispEdges">
<rect x="6" y="43" width="52" height="24" fill="url(#gs1)" />
<rect x="173" y="43" width="52" height="24" fill="url(#gs1)" />
<rect x="6" y="67" width="109" height="33" fill="url(#gs2)" />
<rect x="117" y="67" width="108" height="33" fill="url(#gs2)" />
<rect x="6.5" y="43.5" width="51" height="56" fill="none" stroke="#c01818" stroke-width="1" opacity="0"/>
<rect x="6" y="43" width="52" height="1" fill="#d22b2b" />
<rect x="173" y="43" width="52" height="1" fill="#d22b2b" />
<rect x="6" y="43" width="1" height="57" fill="#c81e1e" />
<rect x="224" y="43" width="1" height="57" fill="#c81e1e" />
<rect x="57" y="43" width="1" height="24" fill="#c81e1e" />
<rect x="173" y="43" width="1" height="24" fill="#c81e1e" />
<rect x="114" y="67" width="1" height="33" fill="#b01010" />
<rect x="117" y="67" width="1" height="33" fill="#b01010" />
<rect x="6" y="99" width="109" height="1" fill="#a00000" />
<rect x="117" y="99" width="108" height="1" fill="#a00000" />
<rect x="58" y="67" width="57" height="1" fill="#c01818" />
<rect x="117" y="67" width="56" height="1" fill="#c01818" />
<rect x="10" y="66" width="44" height="1" fill="#f47c7c" />
<rect x="10" y="67" width="44" height="1" fill="#a80f0f" />
<rect x="177" y="66" width="44" height="1" fill="#f47c7c" />
<rect x="177" y="67" width="44" height="1" fill="#a80f0f" />
<rect x="60" y="43" width="111" height="22" fill="#ffffff" />
<rect x="60.5" y="43.5" width="110" height="21" fill="none" stroke="#abadb3" stroke-width="1"/>
<rect x="62" y="45" width="18.5" height="18" fill="url(#gb)" />
<rect x="150" y="45" width="19" height="18" fill="url(#gb)" />
<rect x="81" y="44" width="1" height="20" fill="#c8cad0" />
<rect x="149" y="44" width="1" height="20" fill="#c8cad0" />
</g>
<path d="M68 52.3 L73.4 52.3 L70.7 55.3 Z" fill="#4d61c4"/>
<path d="M156.5 55.3 L161.9 55.3 L159.2 52.3 Z" fill="#4d61c4"/>
<text x="122.5" y="58.2" font-size="12.5" fill="#000" textLength="23.5" lengthAdjust="spacingAndGlyphs" >3.00</text>
<text x="18.3" y="58.6" font-size="12" fill="#ffeaea" textLength="25.3" lengthAdjust="spacingAndGlyphs" >SELL</text>
<text x="187" y="58.6" font-size="12" fill="#ffeaea" textLength="22" lengthAdjust="spacingAndGlyphs" >BUY</text>
<text x="26" y="95" font-size="12" fill="#fff" textLength="23.2" lengthAdjust="spacingAndGlyphs" font-weight="bold" >0.91</text>
<text x="136.3" y="95" font-size="12" fill="#fff" textLength="23.2" lengthAdjust="spacingAndGlyphs" font-weight="bold" >0.91</text>
<text x="53.6" y="95" font-size="35" fill="#fff" textLength="34.5" lengthAdjust="spacingAndGlyphs" stroke="url(#gs2u)" stroke-width="0.55">91</text>
<text x="164.3" y="95" font-size="35" fill="#fff" textLength="34.5" lengthAdjust="spacingAndGlyphs" stroke="url(#gs2u)" stroke-width="0.55">93</text>
<text x="93.7" y="79" font-size="11.2" fill="#fff" textLength="6.2" lengthAdjust="spacingAndGlyphs" font-weight="bold" >3</text>
<text x="204.4" y="79" font-size="11.2" fill="#fff" textLength="6.4" lengthAdjust="spacingAndGlyphs" font-weight="bold" >8</text>
<g shape-rendering="crispEdges">
<rect x="0" y="568" width="1208" height="1" fill="#e8e8e8" />
<rect x="0" y="571" width="1208" height="19" fill="#f0f0f0" />
<rect x="0" y="590" width="1208" height="3" fill="#fcfcfc" />
<rect x="0" y="593" width="1208" height="1" fill="#b4b4b4" />
<rect x="0" y="594" width="1208" height="1" fill="#9a9a9a" />
<rect x="320" y="569" width="96" height="20" fill="#ffffff" />
<rect x="0" y="570" width="321" height="1" fill="#000" />
<rect x="415" y="570" width="793" height="1" fill="#000" />
<rect x="320" y="570" width="1" height="19" fill="#000" />
<rect x="415" y="570" width="1" height="19" fill="#000" />
<rect x="320" y="588" width="96" height="1" fill="#000" />
<rect x="104" y="574" width="1" height="13" fill="#6e6e6e" />
<rect x="211" y="574" width="1" height="13" fill="#6e6e6e" />
<rect x="524" y="574" width="1" height="13" fill="#6e6e6e" />
<rect x="636" y="574" width="1" height="13" fill="#6e6e6e" />
<rect x="731" y="574" width="1" height="13" fill="#6e6e6e" />
<rect x="812" y="574" width="1" height="13" fill="#6e6e6e" />
<rect x="900" y="574" width="1" height="13" fill="#6e6e6e" />
<rect x="985" y="574" width="1" height="13" fill="#6e6e6e" />
</g>
<text x="15.5" y="585" font-size="12.5" fill="#7f7f7f" textLength="77.5" lengthAdjust="spacingAndGlyphs" >USDX,Weekly</text>
<text x="115" y="585" font-size="12.5" fill="#7f7f7f" textLength="85" lengthAdjust="spacingAndGlyphs" >EURUSD-,Daily</text>
<text x="222" y="585" font-size="12.5" fill="#7f7f7f" textLength="87" lengthAdjust="spacingAndGlyphs" >AUDUSD-,Daily</text>
<text x="427.5" y="585" font-size="12.5" fill="#7f7f7f" textLength="85.7" lengthAdjust="spacingAndGlyphs" >USDCAD-,Daily</text>
<text x="536.4" y="585" font-size="12.5" fill="#7f7f7f" textLength="87" lengthAdjust="spacingAndGlyphs" >USDCNH-,Daily</text>
<text x="646.5" y="585" font-size="12.5" fill="#7f7f7f" textLength="72" lengthAdjust="spacingAndGlyphs" >XAUUSD-,H4</text>
<text x="743.2" y="585" font-size="12.5" fill="#7f7f7f" textLength="56.2" lengthAdjust="spacingAndGlyphs" >UKOil-,H4</text>
<text x="824.3" y="585" font-size="12.5" fill="#7f7f7f" textLength="63.2" lengthAdjust="spacingAndGlyphs" >DJ30-,Daily</text>
<text x="911.8" y="585" font-size="12.5" fill="#7f7f7f" textLength="60.2" lengthAdjust="spacingAndGlyphs" >UK100-,H1</text>
<text x="332" y="585" font-size="12.5" fill="#000" textLength="72.3" lengthAdjust="spacingAndGlyphs" >USDCHF-,H4</text>
<path d="M1184.5 575.5 L1184.5 582.5 L1181 579 Z" fill="#868686"/>
<path d="M1200 575.5 L1200 582.5 L1203.5 579 Z" fill="#868686"/>
</svg>
</body></html>
